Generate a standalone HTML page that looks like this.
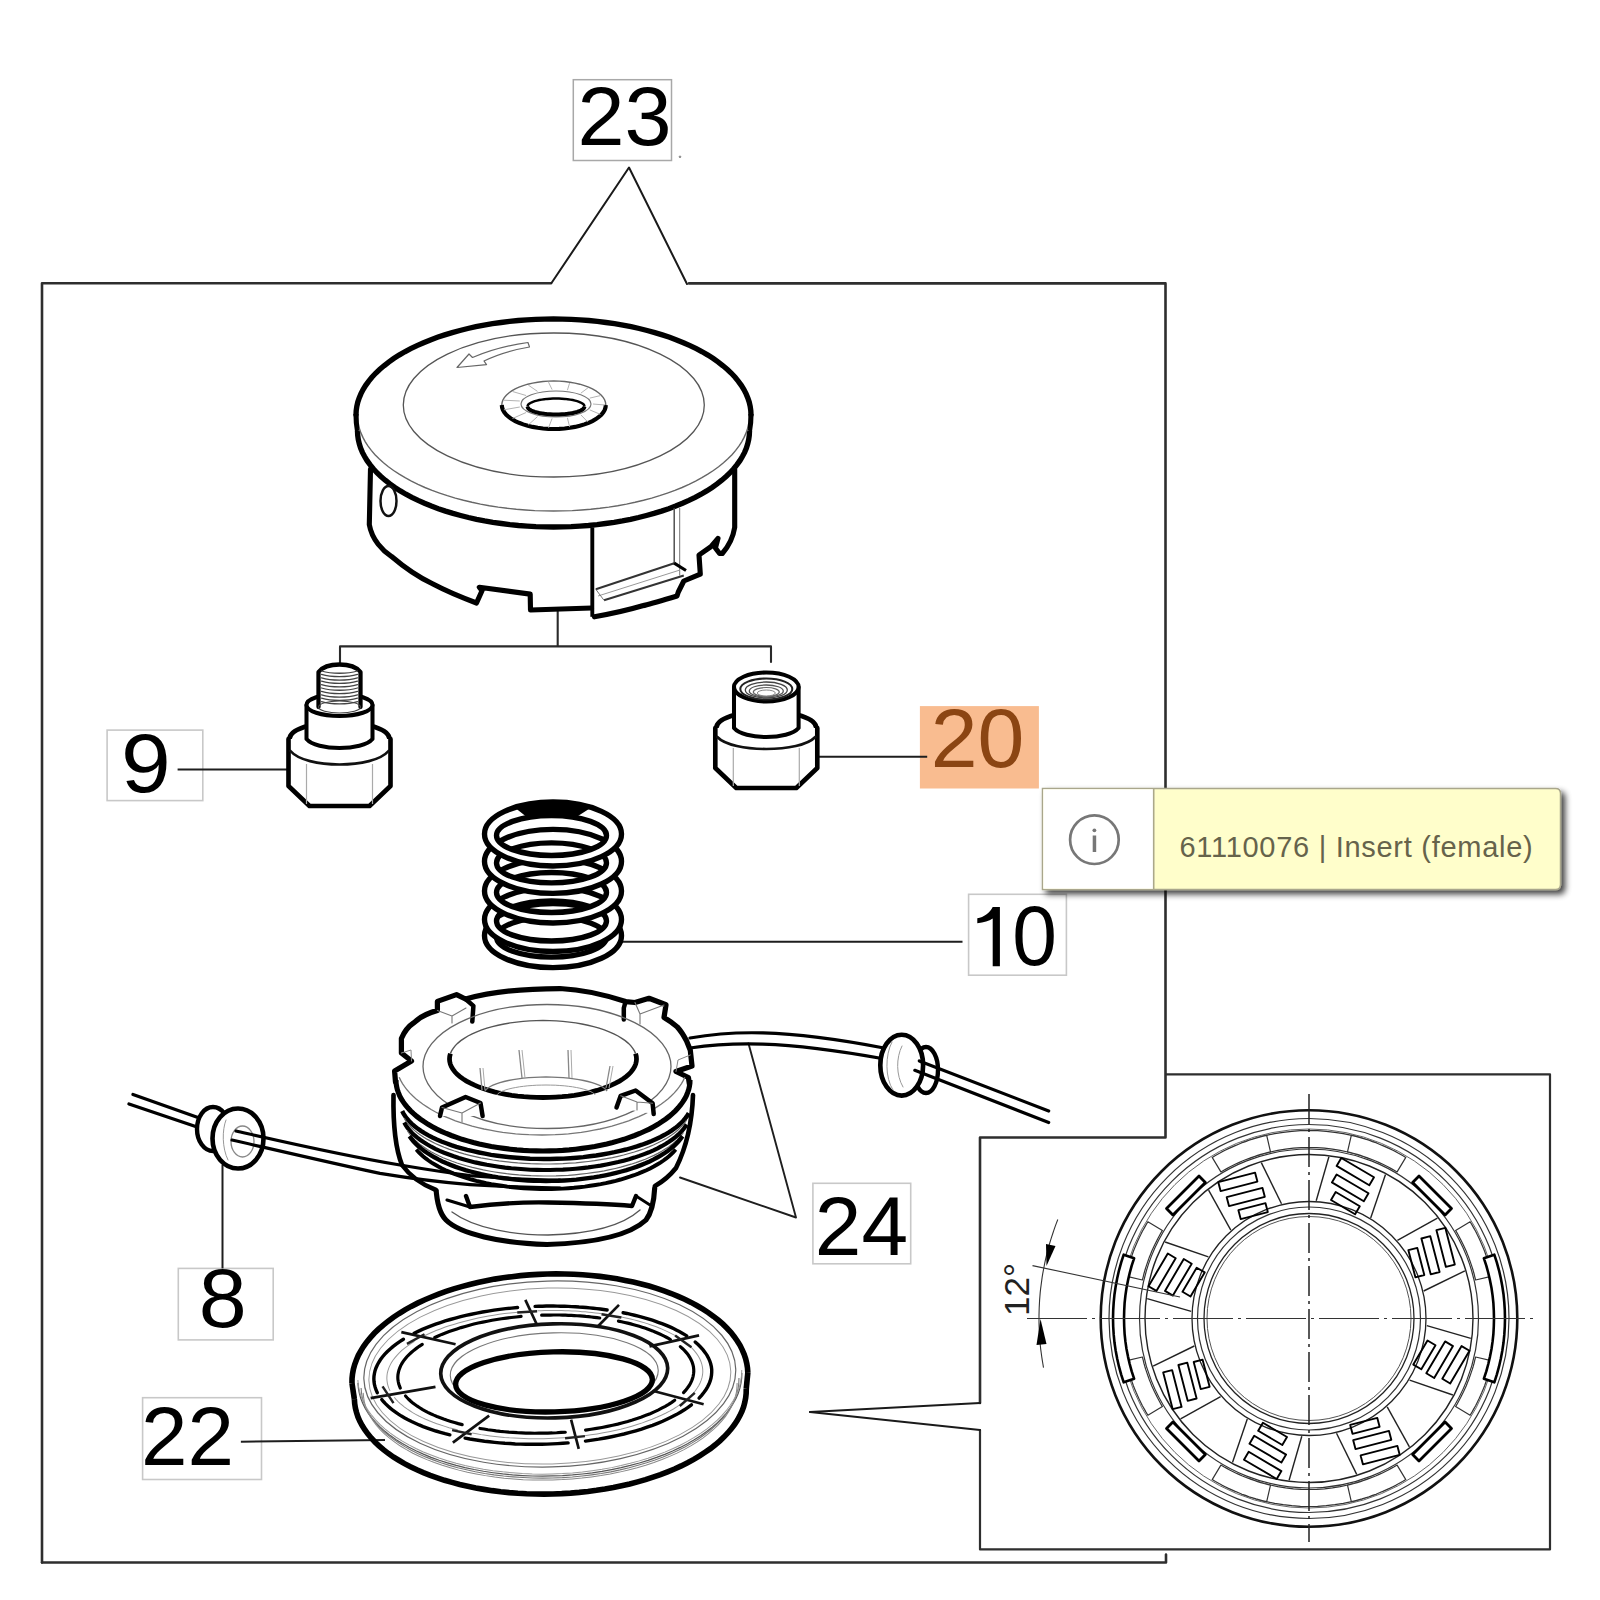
<!DOCTYPE html>
<html><head><meta charset="utf-8"><style>
html,body{margin:0;padding:0;background:#fff;}
body{width:1600px;height:1600px;position:relative;overflow:hidden;font-family:"Liberation Sans",sans-serif;}
svg{position:absolute;left:0;top:0;}
svg text{font-family:"Liberation Sans",sans-serif;}
</style></head><body>
<svg width="1600" height="1600" viewBox="0 0 1600 1600">
<path d="M42 1562.5 V283.2 H551" stroke="#2e2e2e" stroke-width="2.6" fill="none" stroke-linejoin="round" stroke-linecap="round" />
<path d="M689 283.4 H1165.5 V1137.5 H980 V1403" stroke="#2e2e2e" stroke-width="2.6" fill="none" stroke-linejoin="round" stroke-linecap="round" />
<path d="M980 1430 V1549.4 H1550 V1074.3 H1166" stroke="#2e2e2e" stroke-width="2.2" fill="none" stroke-linejoin="round" stroke-linecap="round" />
<path d="M42 1562.5 H1166 V1554.5" stroke="#2e2e2e" stroke-width="2.6" fill="none" stroke-linejoin="round" stroke-linecap="round" />
<path d="M551.5 283 L629 167.5 L687 284" stroke="#1a1a1a" stroke-width="2.0" fill="none" stroke-linejoin="round" stroke-linecap="round" />
<path d="M810 1412 L980 1403" stroke="#1a1a1a" stroke-width="2" fill="none" stroke-linejoin="round" stroke-linecap="round" />
<path d="M810 1412 L980 1430" stroke="#1a1a1a" stroke-width="2" fill="none" stroke-linejoin="round" stroke-linecap="round" />
<circle cx="680.0" cy="156.8" r="0.8" stroke="#555" stroke-width="0.8" fill="none" />
<rect x="573.3" y="79.7" width="98.2" height="80.8" fill="none" stroke="#a8a8a8" stroke-width="1.5"/>
<text transform="translate(577.42 145.06) scale(0.8458 0.8376)" font-size="100" fill="#000">23</text>
<rect x="107.1" y="730.1" width="95.7" height="70.5" fill="none" stroke="#c8c8c8" stroke-width="1.6"/>
<text transform="translate(120.90 792.26) scale(0.8939 0.8362)" font-size="100" fill="#000">9</text>
<rect x="968.6" y="894.3" width="97.8" height="80.9" fill="none" stroke="#c8c8c8" stroke-width="1.6"/>
<path d="M992.7 906.9 L999.9 906.9 L999.9 966.2 L992.7 966.2 L992.7 918.5 C989 921 984 922.5 977.3 923.2 L977.3 918.2 C984 917 989.5 913 992.7 906.9 Z" stroke="none" stroke-width="0" fill="#000" stroke-linejoin="round" stroke-linecap="round" />
<text transform="translate(1012.27 965.36) scale(0.8033 0.8432)" font-size="100" fill="#000">0</text>
<rect x="812.9" y="1183.3" width="97.8" height="80.5" fill="none" stroke="#c8c8c8" stroke-width="1.6"/>
<text transform="translate(814.81 1255.20) scale(0.8383 0.8352)" font-size="100" fill="#000">24</text>
<rect x="178.3" y="1268.4" width="94.9" height="71.5" fill="none" stroke="#c8c8c8" stroke-width="1.6"/>
<text transform="translate(198.69 1327.36) scale(0.8617 0.8390)" font-size="100" fill="#000">8</text>
<rect x="142.6" y="1397.7" width="118.9" height="81.8" fill="none" stroke="#c8c8c8" stroke-width="1.6"/>
<text transform="translate(141.12 1465.10) scale(0.8360 0.8381)" font-size="100" fill="#000">22</text>
<rect x="919.9" y="706.1" width="119" height="82.4" fill="#f9bc90"/>
<text transform="translate(930.69 766.57) scale(0.8416 0.8263)" font-size="100" fill="#8b4513">20</text>
<line x1="177.6" y1="769.5" x2="288.0" y2="769.5" stroke="#1e1e1e" stroke-width="2.0" />
<line x1="811.0" y1="756.7" x2="927.2" y2="756.7" stroke="#1e1e1e" stroke-width="2.0" />
<line x1="621.6" y1="941.8" x2="962.5" y2="941.8" stroke="#1e1e1e" stroke-width="2.0" />
<line x1="222.5" y1="1165.0" x2="222.5" y2="1268.4" stroke="#1e1e1e" stroke-width="2.0" />
<line x1="240.9" y1="1441.7" x2="385.0" y2="1440.0" stroke="#1e1e1e" stroke-width="2.0" />
<path d="M748.5 1043.5 L796 1217.5 L680 1177.5" stroke="#1e1e1e" stroke-width="1.9" fill="none" stroke-linejoin="round" stroke-linecap="round" />
<path d="M340 664 V646.4 H771 V662" stroke="#2a2a2a" stroke-width="2.1" fill="none" stroke-linejoin="round" stroke-linecap="round" />
<line x1="557.7" y1="611.0" x2="557.7" y2="646.4" stroke="#2a2a2a" stroke-width="2.1" />
<path d="M356.0 415.0 L356.2 410.7 L356.8 406.4 L357.8 402.1 L359.2 397.9 L361.0 393.6 L363.1 389.5 L365.7 385.3 L368.6 381.3 L371.9 377.3 L375.6 373.3 L379.6 369.5 L384.0 365.8 L388.7 362.1 L393.7 358.6 L399.1 355.1 L404.8 351.8 L410.7 348.7 L417.0 345.6 L423.6 342.7 L430.4 339.9 L437.4 337.3 L444.7 334.9 L452.2 332.6 L459.9 330.5 L467.8 328.5 L475.9 326.7 L484.1 325.1 L492.5 323.7 L501.0 322.5 L509.6 321.4 L518.2 320.5 L527.0 319.9 L535.8 319.4 L544.6 319.1 L553.5 319.0 L562.4 319.1 L571.2 319.4 L580.0 319.9 L588.8 320.5 L597.4 321.4 L606.0 322.5 L614.5 323.7 L622.9 325.1 L631.1 326.7 L639.2 328.5 L647.1 330.5 L654.8 332.6 L662.3 334.9 L669.6 337.3 L676.6 339.9 L683.4 342.7 L690.0 345.6 L696.3 348.7 L702.2 351.8 L707.9 355.1 L713.3 358.6 L718.3 362.1 L723.0 365.8 L727.4 369.5 L731.4 373.3 L735.1 377.3 L738.4 381.3 L741.3 385.3 L743.9 389.5 L746.0 393.6 L747.8 397.9 L749.2 402.1 L750.2 406.4 L750.8 410.7 L751.0 415.0 L749.5 431 749.5 431.0 L749.3 435.3 L748.7 439.6 L747.7 443.9 L746.4 448.1 L744.6 452.4 L742.4 456.5 L739.9 460.7 L737.0 464.7 L733.7 468.7 L730.1 472.7 L726.1 476.5 L721.8 480.2 L717.1 483.9 L712.1 487.4 L706.7 490.9 L701.1 494.2 L695.2 497.3 L688.9 500.4 L682.5 503.3 L675.7 506.1 L668.7 508.7 L661.5 511.1 L654.0 513.4 L646.4 515.5 L638.5 517.5 L630.5 519.3 L622.4 520.9 L614.1 522.3 L605.6 523.5 L597.1 524.6 L588.5 525.5 L579.8 526.1 L571.1 526.6 L562.3 526.9 L553.5 527.0 L544.7 526.9 L535.9 526.6 L527.2 526.1 L518.5 525.5 L509.9 524.6 L501.4 523.5 L492.9 522.3 L484.6 520.9 L476.5 519.3 L468.5 517.5 L460.6 515.5 L453.0 513.4 L445.5 511.1 L438.3 508.7 L431.3 506.1 L424.5 503.3 L418.1 500.4 L411.8 497.3 L405.9 494.2 L400.3 490.9 L394.9 487.4 L389.9 483.9 L385.2 480.2 L380.9 476.5 L376.9 472.7 L373.3 468.7 L370.0 464.7 L367.1 460.7 L364.6 456.5 L362.4 452.4 L360.6 448.1 L359.3 443.9 L358.3 439.6 L357.7 435.3 L357.5 431.0 Z" fill="#fff" stroke="none"/>
<path d="M356.0 415.0 L356.2 410.7 L356.8 406.4 L357.8 402.1 L359.2 397.9 L361.0 393.6 L363.1 389.5 L365.7 385.3 L368.6 381.3 L371.9 377.3 L375.6 373.3 L379.6 369.5 L384.0 365.8 L388.7 362.1 L393.7 358.6 L399.1 355.1 L404.8 351.8 L410.7 348.7 L417.0 345.6 L423.6 342.7 L430.4 339.9 L437.4 337.3 L444.7 334.9 L452.2 332.6 L459.9 330.5 L467.8 328.5 L475.9 326.7 L484.1 325.1 L492.5 323.7 L501.0 322.5 L509.6 321.4 L518.2 320.5 L527.0 319.9 L535.8 319.4 L544.6 319.1 L553.5 319.0 L562.4 319.1 L571.2 319.4 L580.0 319.9 L588.8 320.5 L597.4 321.4 L606.0 322.5 L614.5 323.7 L622.9 325.1 L631.1 326.7 L639.2 328.5 L647.1 330.5 L654.8 332.6 L662.3 334.9 L669.6 337.3 L676.6 339.9 L683.4 342.7 L690.0 345.6 L696.3 348.7 L702.2 351.8 L707.9 355.1 L713.3 358.6 L718.3 362.1 L723.0 365.8 L727.4 369.5 L731.4 373.3 L735.1 377.3 L738.4 381.3 L741.3 385.3 L743.9 389.5 L746.0 393.6 L747.8 397.9 L749.2 402.1 L750.2 406.4 L750.8 410.7 L751.0 415.0" stroke="#000" stroke-width="5.37" fill="none" stroke-linecap="round"/>
<path d="M751 414 C751 420 750.5 426 749.5 431" stroke="#000" stroke-width="5.12" fill="none"/>
<path d="M356 414 C356 420 356.5 426 357.5 431" stroke="#000" stroke-width="5.12" fill="none"/>
<path d="M749.5 431.0 L749.3 435.3 L748.7 439.6 L747.7 443.9 L746.4 448.1 L744.6 452.4 L742.4 456.5 L739.9 460.7 L737.0 464.7 L733.7 468.7 L730.1 472.7 L726.1 476.5 L721.8 480.2 L717.1 483.9 L712.1 487.4 L706.7 490.9 L701.1 494.2 L695.2 497.3 L688.9 500.4 L682.5 503.3 L675.7 506.1 L668.7 508.7 L661.5 511.1 L654.0 513.4 L646.4 515.5 L638.5 517.5 L630.5 519.3 L622.4 520.9 L614.1 522.3 L605.6 523.5 L597.1 524.6 L588.5 525.5 L579.8 526.1 L571.1 526.6 L562.3 526.9 L553.5 527.0 L544.7 526.9 L535.9 526.6 L527.2 526.1 L518.5 525.5 L509.9 524.6 L501.4 523.5 L492.9 522.3 L484.6 520.9 L476.5 519.3 L468.5 517.5 L460.6 515.5 L453.0 513.4 L445.5 511.1 L438.3 508.7 L431.3 506.1 L424.5 503.3 L418.1 500.4 L411.8 497.3 L405.9 494.2 L400.3 490.9 L394.9 487.4 L389.9 483.9 L385.2 480.2 L380.9 476.5 L376.9 472.7 L373.3 468.7 L370.0 464.7 L367.1 460.7 L364.6 456.5 L362.4 452.4 L360.6 448.1 L359.3 443.9 L358.3 439.6 L357.7 435.3 L357.5 431.0" stroke="#000" stroke-width="5.37" fill="none"/>
<path d="M747.6 428.4 L746.1 432.9 L744.1 437.4 L741.7 441.8 L738.9 446.1 L735.7 450.4 L732.0 454.7 L727.9 458.8 L723.5 462.8 L718.6 466.7 L713.4 470.5 L707.8 474.2 L701.9 477.7 L695.6 481.1 L689.0 484.4 L682.1 487.5 L674.9 490.4 L667.4 493.1 L659.7 495.7 L651.7 498.1 L643.5 500.3 L635.1 502.3 L626.5 504.1 L617.7 505.7 L608.8 507.1 L599.8 508.3 L590.7 509.3 L581.5 510.0 L572.2 510.6 L562.8 510.9 L553.5 511.0 L544.2 510.9 L534.8 510.6 L525.5 510.0 L516.3 509.3 L507.2 508.3 L498.2 507.1 L489.3 505.7 L480.5 504.1 L471.9 502.3 L463.5 500.3 L455.3 498.1 L447.3 495.7 L439.6 493.1 L432.1 490.4 L424.9 487.5 L418.0 484.4 L411.4 481.1 L405.1 477.7 L399.2 474.2 L393.6 470.5 L388.4 466.7 L383.5 462.8 L379.1 458.8 L375.0 454.7 L371.3 450.4 L368.1 446.1 L365.3 441.8 L362.9 437.4 L360.9 432.9 L359.4 428.4" stroke="#666" stroke-width="1.40" fill="none"/>
<ellipse cx="553.8" cy="405.0" rx="150.5" ry="72.0" stroke="#555" stroke-width="1.30" fill="none" />
<path d="M605.8 405.0 L605.5 407.5 L604.7 410.0 L603.3 412.4 L601.3 414.8 L598.8 417.0 L595.9 419.1 L592.4 421.1 L588.6 422.8 L584.4 424.4 L579.8 425.8 L575.0 426.9 L569.9 427.8 L564.6 428.5 L559.2 428.9 L553.8 429.0 L548.4 428.9 L543.0 428.5 L537.7 427.8 L532.6 426.9 L527.8 425.8 L523.2 424.4 L519.0 422.8 L515.2 421.1 L511.7 419.1 L508.8 417.0 L506.3 414.8 L504.3 412.4 L502.9 410.0 L502.1 407.5 L501.8 405.0" stroke="#000" stroke-width="4.15" fill="none"/>
<path d="M501.8 405.0 L502.1 402.5 L502.9 400.0 L504.3 397.6 L506.3 395.2 L508.8 393.0 L511.7 390.9 L515.2 388.9 L519.0 387.2 L523.2 385.6 L527.8 384.2 L532.6 383.1 L537.7 382.2 L543.0 381.5 L548.4 381.1 L553.8 381.0 L559.2 381.1 L564.6 381.5 L569.9 382.2 L575.0 383.1 L579.8 384.2 L584.4 385.6 L588.6 387.2 L592.4 388.9 L595.9 390.9 L598.8 393.0 L601.3 395.2 L603.3 397.6 L604.7 400.0 L605.5 402.5 L605.8 405.0" stroke="#666" stroke-width="1.40" fill="none"/>
<ellipse cx="556.0" cy="404.0" rx="35.0" ry="13.0" stroke="#777" stroke-width="1.20" fill="none" />
<path d="M584.5 406.5 L584.3 407.3 L583.9 408.2 L583.1 409.0 L582.0 409.8 L580.7 410.5 L579.1 411.2 L577.2 411.9 L575.1 412.4 L572.8 413.0 L570.2 413.4 L567.6 413.8 L564.8 414.1 L561.9 414.3 L559.0 414.5 L556.0 414.5 L553.0 414.5 L550.1 414.3 L547.2 414.1 L544.4 413.8 L541.8 413.4 L539.2 413.0 L536.9 412.4 L534.8 411.9 L532.9 411.2 L531.3 410.5 L530.0 409.8 L528.9 409.0 L528.1 408.2 L527.7 407.3 L527.5 406.5" stroke="#000" stroke-width="3.90" fill="none"/>
<path d="M527.5 406.5 L527.7 405.7 L528.1 404.8 L528.9 404.0 L530.0 403.2 L531.3 402.5 L532.9 401.8 L534.8 401.1 L536.9 400.6 L539.2 400.0 L541.8 399.6 L544.4 399.2 L547.2 398.9 L550.1 398.7 L553.0 398.5 L556.0 398.5 L559.0 398.5 L561.9 398.7 L564.8 398.9 L567.6 399.2 L570.2 399.6 L572.8 400.0 L575.1 400.6 L577.2 401.1 L579.1 401.8 L580.7 402.5 L582.0 403.2 L583.1 404.0 L583.9 404.8 L584.3 405.7 L584.5 406.5" stroke="#000" stroke-width="2.46" fill="none"/>
<line x1="604.8" y1="405.0" x2="593.0" y2="404.0" stroke="#aaa" stroke-width="0.90" />
<line x1="600.4" y1="414.4" x2="589.8" y2="409.9" stroke="#aaa" stroke-width="0.90" />
<line x1="587.9" y1="422.1" x2="580.8" y2="414.8" stroke="#aaa" stroke-width="0.90" />
<line x1="569.6" y1="426.9" x2="567.4" y2="417.8" stroke="#aaa" stroke-width="0.90" />
<line x1="548.5" y1="427.9" x2="552.1" y2="418.4" stroke="#aaa" stroke-width="0.90" />
<line x1="528.3" y1="424.9" x2="537.5" y2="416.6" stroke="#aaa" stroke-width="0.90" />
<line x1="512.5" y1="418.5" x2="526.1" y2="412.5" stroke="#aaa" stroke-width="0.90" />
<line x1="503.9" y1="409.8" x2="519.8" y2="407.0" stroke="#aaa" stroke-width="0.90" />
<line x1="503.9" y1="400.2" x2="519.8" y2="401.0" stroke="#aaa" stroke-width="0.90" />
<line x1="512.5" y1="391.5" x2="526.1" y2="395.5" stroke="#aaa" stroke-width="0.90" />
<line x1="528.3" y1="385.1" x2="537.5" y2="391.4" stroke="#aaa" stroke-width="0.90" />
<line x1="548.5" y1="382.1" x2="552.1" y2="389.6" stroke="#aaa" stroke-width="0.90" />
<line x1="569.6" y1="383.1" x2="567.4" y2="390.2" stroke="#aaa" stroke-width="0.90" />
<line x1="587.9" y1="387.9" x2="580.8" y2="393.2" stroke="#aaa" stroke-width="0.90" />
<line x1="600.4" y1="395.6" x2="589.8" y2="398.1" stroke="#aaa" stroke-width="0.90" />
<path d="M457 367.5 L469 354 L472.5 357.5 C490 350 510 345 528 342.5 L529.5 347 C512 350 494 356 484 361 L486.5 364.6 Z" stroke="#666" stroke-width="1.20" fill="none" stroke-linejoin="round" stroke-linecap="round" />
<path d="M370.5 469 L369.3 524.6 C372 540 383 551 391.3 556.3 C405 568 418 577 432.5 583.8 C448 592 463 598 476.5 603 L482 590.7 L479.3 587.2 L530.2 594.1 L530.5 610 L591.6 608" stroke="#000" stroke-width="5.12" fill="none" stroke-linejoin="round" stroke-linecap="round" />
<path d="M734.7 469.6 L734.7 527.4 C733 538 728 547 722.3 553.5 L719.6 553.5 L715.4 548 L718 538.4 L711 546.7 L699 555 L700.3 574.2 L683.8 581 L678.3 592 L677 596 C660 601 650 604 642.5 605.8 C625 611 610 614 594.4 616.8" stroke="#000" stroke-width="5.12" fill="none" stroke-linejoin="round" stroke-linecap="round" />
<line x1="592.3" y1="527.4" x2="592.3" y2="616.8" stroke="#000" stroke-width="3.90" />
<line x1="674.2" y1="508.0" x2="674.2" y2="564.5" stroke="#444" stroke-width="1.40" />
<line x1="679.7" y1="508.0" x2="679.7" y2="575.5" stroke="#777" stroke-width="1.00" />
<line x1="595.8" y1="589.3" x2="674.2" y2="563.2" stroke="#333" stroke-width="2.02" />
<line x1="604.0" y1="600.3" x2="683.8" y2="575.5" stroke="#333" stroke-width="2.02" />
<line x1="598.0" y1="596.0" x2="680.0" y2="570.0" stroke="#999" stroke-width="1.00" />
<line x1="674.2" y1="563.2" x2="686.0" y2="570.5" stroke="#000" stroke-width="3.17" />
<line x1="595.8" y1="589.3" x2="604.0" y2="600.3" stroke="#777" stroke-width="1.00" />
<ellipse cx="388.5" cy="501.0" rx="8.0" ry="15.0" stroke="#111" stroke-width="2.46" fill="none" />
<ellipse cx="339.5" cy="739.0" rx="50.0" ry="17.0" stroke="#000" stroke-width="4.64" fill="#fff" />
<path d="M288.5 739 L288.5 786 L309.5 806 L369.5 806 L390.5 786 L390.5 739" stroke="#000" stroke-width="4.64" fill="#fff" stroke-linejoin="round" stroke-linecap="round" />
<path d="M290.5 751 C305.5 769 373.5 769 388.5 751" stroke="#111" stroke-width="2.69" fill="none" stroke-linejoin="round" stroke-linecap="round" />
<line x1="306.5" y1="764.0" x2="306.5" y2="804.0" stroke="#aaa" stroke-width="1.20" />
<line x1="372.5" y1="764.0" x2="372.5" y2="804.0" stroke="#aaa" stroke-width="1.20" />
<path d="M306.5 705 L306.5 739 C316.5 751 362.5 751 372.5 739 L372.5 705" stroke="#000" stroke-width="4.03" fill="#fff" stroke-linejoin="round" stroke-linecap="round" />
<ellipse cx="339.5" cy="705.0" rx="33.0" ry="11.0" stroke="#000" stroke-width="4.03" fill="#fff" />
<path d="M318.5 707 L318.5 672 C326.5 662 352.5 662 360.5 672 L360.5 707" stroke="#000" stroke-width="4.27" fill="#fff" stroke-linejoin="round" stroke-linecap="round" />
<path d="M321.5 671.0 C331.5 674.0 347.5 674.0 357.5 671.0" stroke="#444" stroke-width="1.30" fill="none" stroke-linejoin="round" stroke-linecap="round" />
<path d="M321.5 674.4 C331.5 677.4 347.5 677.4 357.5 674.4" stroke="#444" stroke-width="1.30" fill="none" stroke-linejoin="round" stroke-linecap="round" />
<path d="M321.5 677.8 C331.5 680.8 347.5 680.8 357.5 677.8" stroke="#444" stroke-width="1.30" fill="none" stroke-linejoin="round" stroke-linecap="round" />
<path d="M321.5 681.2 C331.5 684.2 347.5 684.2 357.5 681.2" stroke="#444" stroke-width="1.30" fill="none" stroke-linejoin="round" stroke-linecap="round" />
<path d="M321.5 684.6 C331.5 687.6 347.5 687.6 357.5 684.6" stroke="#444" stroke-width="1.30" fill="none" stroke-linejoin="round" stroke-linecap="round" />
<path d="M321.5 688.0 C331.5 691.0 347.5 691.0 357.5 688.0" stroke="#444" stroke-width="1.30" fill="none" stroke-linejoin="round" stroke-linecap="round" />
<path d="M321.5 691.4 C331.5 694.4 347.5 694.4 357.5 691.4" stroke="#444" stroke-width="1.30" fill="none" stroke-linejoin="round" stroke-linecap="round" />
<path d="M321.5 694.8 C331.5 697.8 347.5 697.8 357.5 694.8" stroke="#444" stroke-width="1.30" fill="none" stroke-linejoin="round" stroke-linecap="round" />
<path d="M321.5 698.2 C331.5 701.2 347.5 701.2 357.5 698.2" stroke="#444" stroke-width="1.30" fill="none" stroke-linejoin="round" stroke-linecap="round" />
<path d="M321.5 701.6 C331.5 704.6 347.5 704.6 357.5 701.6" stroke="#444" stroke-width="1.30" fill="none" stroke-linejoin="round" stroke-linecap="round" />
<ellipse cx="339.5" cy="707.0" rx="21.0" ry="6.0" stroke="#444" stroke-width="1.20" fill="none" />
<ellipse cx="766.3" cy="728.0" rx="50.0" ry="17.0" stroke="#000" stroke-width="4.64" fill="#fff" />
<path d="M715.3 728 L715.3 768 L736.3 788 L796.3 788 L817.3 768 L817.3 728" stroke="#000" stroke-width="4.64" fill="#fff" stroke-linejoin="round" stroke-linecap="round" />
<path d="M717.3 737 C732.3 753 800.3 753 815.3 737" stroke="#111" stroke-width="2.69" fill="none" stroke-linejoin="round" stroke-linecap="round" />
<line x1="733.3" y1="748.0" x2="733.3" y2="786.0" stroke="#aaa" stroke-width="1.20" />
<line x1="799.3" y1="748.0" x2="799.3" y2="786.0" stroke="#aaa" stroke-width="1.20" />
<path d="M734.0 687 L734.0 728 C744.0 740 788.5999999999999 740 798.5999999999999 728 L798.5999999999999 687" stroke="#000" stroke-width="4.03" fill="#fff" stroke-linejoin="round" stroke-linecap="round" />
<ellipse cx="766.3" cy="687.0" rx="32.3" ry="14.5" stroke="#000" stroke-width="4.03" fill="#fff" />
<ellipse cx="766.3" cy="689.0" rx="26.0" ry="10.5" stroke="#222" stroke-width="2.02" fill="none" />
<ellipse cx="766.3" cy="690.0" rx="21.0" ry="8.0" stroke="#444" stroke-width="1.30" fill="none" />
<ellipse cx="766.3" cy="691.0" rx="17.0" ry="6.0" stroke="#555" stroke-width="1.30" fill="none" />
<ellipse cx="766.3" cy="692.0" rx="13.0" ry="4.5" stroke="#666" stroke-width="1.20" fill="none" />
<ellipse cx="766.3" cy="693.0" rx="9.0" ry="3.0" stroke="#888" stroke-width="1.00" fill="none" />
<path d="M484.5 935.6 a68.5 32.0 0 1 0 137.0 0 a68.5 32.0 0 1 0 -137.0 0 Z M496.5 937.1 a55.0 20.0 0 1 0 110.0 0 a55.0 20.0 0 1 0 -110.0 0 Z" fill="#fff" fill-rule="evenodd" stroke="#000" stroke-width="5.37"/>
<path d="M484.5 919.5 a68.5 32.0 0 1 0 137.0 0 a68.5 32.0 0 1 0 -137.0 0 Z M496.5 921.0 a55.0 20.0 0 1 0 110.0 0 a55.0 20.0 0 1 0 -110.0 0 Z" fill="#fff" fill-rule="evenodd" stroke="#000" stroke-width="5.37"/>
<path d="M484.5 891.0 a68.5 32.0 0 1 0 137.0 0 a68.5 32.0 0 1 0 -137.0 0 Z M496.5 892.5 a55.0 20.0 0 1 0 110.0 0 a55.0 20.0 0 1 0 -110.0 0 Z" fill="#fff" fill-rule="evenodd" stroke="#000" stroke-width="5.37"/>
<path d="M484.5 861.4 a68.5 32.0 0 1 0 137.0 0 a68.5 32.0 0 1 0 -137.0 0 Z M496.5 862.9 a55.0 20.0 0 1 0 110.0 0 a55.0 20.0 0 1 0 -110.0 0 Z" fill="#fff" fill-rule="evenodd" stroke="#000" stroke-width="5.37"/>
<path d="M484.5 834.0 a68.5 32.0 0 1 0 137.0 0 a68.5 32.0 0 1 0 -137.0 0 Z M496.5 835.5 a55.0 20.0 0 1 0 110.0 0 a55.0 20.0 0 1 0 -110.0 0 Z" fill="#fff" fill-rule="evenodd" stroke="#000" stroke-width="5.37"/>
<path d="M514.7 807.5 L517.0 806.8 L519.3 806.1 L521.7 805.5 L524.1 805.0 L526.6 804.5 L529.1 804.0 L531.7 803.6 L534.3 803.2 L536.9 802.9 L539.5 802.6 L542.2 802.4 L544.9 802.2 L547.6 802.1 L550.3 802.0 L553.0 802.0 L555.7 802.0 L558.4 802.1 L561.1 802.2 L563.8 802.4 L566.5 802.6 L569.1 802.9 L571.7 803.2 L574.3 803.6 L576.9 804.0 L579.4 804.5 L581.9 805.0 L584.3 805.5 L586.7 806.1 L589.0 806.8 L591.3 807.5 L575.6 817.5 L574.1 817.3 L572.6 817.0 L571.0 816.8 L569.5 816.6 L567.9 816.4 L566.3 816.2 L564.7 816.1 L563.1 815.9 L561.4 815.8 L559.8 815.7 L558.1 815.6 L556.5 815.6 L554.8 815.5 L553.2 815.5 L551.5 815.5 L549.8 815.5 L548.2 815.5 L546.5 815.6 L544.9 815.6 L543.2 815.7 L541.6 815.8 L539.9 815.9 L538.3 816.1 L536.7 816.2 L535.1 816.4 L533.5 816.6 L532.0 816.8 L530.4 817.0 L528.9 817.3 L527.4 817.5 Z" fill="#000" stroke="none"/>
<path d="M436 1188 C437 1205 440 1214 446 1220 C460 1234 500 1243 547 1244.5 C595 1243 630 1235 646 1220 C652 1212 654 1202 654.7 1188 L640 1180 L450 1180 Z" fill="#fff" stroke="none"/>
<path d="M436 1188 C437 1205 440 1214 446 1220 C460 1234 500 1243 547 1244.5 C595 1243 630 1235 646 1220 C652 1212 654 1202 654.7 1188" stroke="#000" stroke-width="5.12" fill="none" stroke-linejoin="round" stroke-linecap="round" />
<path d="M452 1212 C475 1229 515 1235 548 1235 C590 1234 622 1226 640 1210" stroke="#555" stroke-width="1.30" fill="none" stroke-linejoin="round" stroke-linecap="round" />
<path d="M466 1196 L470 1207 C500 1203 520 1202 548 1202.5 C580 1203 610 1204 632 1206 L636 1196" stroke="#000" stroke-width="4.39" fill="none" stroke-linejoin="round" stroke-linecap="round" />
<path d="M447 1200 L470 1207" stroke="#000" stroke-width="3.17" fill="none" stroke-linejoin="round" stroke-linecap="round" />
<path d="M636 1196 L650 1205" stroke="#000" stroke-width="2.69" fill="none" stroke-linejoin="round" stroke-linecap="round" />
<path d="M393.5 1090 C393 1125 396 1150 402 1165 C412 1178 425 1186 440 1190 C480 1196 510 1197 545 1197 C590 1197 630 1192 655 1184 C668 1178 676 1168 680 1160 C688 1140 692 1120 693 1090 Z" fill="#fff" stroke="none"/>
<path d="M393.5 1095 C393 1125 396 1150 402 1165 C410 1176 420 1184 436 1190" stroke="#000" stroke-width="4.64" fill="none" stroke-linejoin="round" stroke-linecap="round" />
<path d="M693 1095 C692 1125 686 1148 676 1168 C668 1178 662 1182 655 1186" stroke="#000" stroke-width="4.64" fill="none" stroke-linejoin="round" stroke-linecap="round" />
<path d="M688.8 1113.1 L687.3 1115.7 L685.4 1118.2 L683.3 1120.7 L680.9 1123.2 L678.1 1125.7 L675.1 1128.1 L671.9 1130.4 L668.4 1132.6 L664.6 1134.8 L660.5 1137.0 L656.2 1139.0 L651.7 1141.0 L647.0 1142.9 L642.0 1144.7 L636.9 1146.4 L631.5 1148.0 L626.0 1149.5 L620.3 1150.9 L614.5 1152.2 L608.5 1153.4 L602.3 1154.5 L596.1 1155.5 L589.7 1156.3 L583.3 1157.1 L576.8 1157.7 L570.2 1158.2 L563.5 1158.6 L556.9 1158.8 L550.2 1159.0 L543.5 1159.0 L536.7 1158.9 L530.1 1158.7 L523.4 1158.3 L516.8 1157.8 L510.3 1157.2 L503.8 1156.5 L497.4 1155.7 L491.1 1154.8 L485.0 1153.7 L479.0 1152.5 L473.1 1151.2 L467.3 1149.9 L461.8 1148.4 L456.4 1146.8 L451.2 1145.1 L446.2 1143.3 L441.4 1141.5 L436.8 1139.5 L432.5 1137.5 L428.4 1135.4 L424.5 1133.2 L420.9 1130.9 L417.6 1128.6 L414.6 1126.2 L411.8 1123.8 L409.3 1121.3 L407.1 1118.8 L405.2 1116.3 L403.5 1113.7 L402.2 1111.1" stroke="#000" stroke-width="4.39" fill="none"/>
<path d="M686.7 1120.0 L685.0 1122.5 L683.0 1125.0 L680.7 1127.4 L678.2 1129.8 L675.4 1132.2 L672.3 1134.5 L669.0 1136.7 L665.5 1138.9 L661.6 1141.0 L657.6 1143.0 L653.4 1145.0 L648.9 1146.9 L644.2 1148.7 L639.3 1150.4 L634.3 1152.0 L629.0 1153.5 L623.6 1155.0 L618.1 1156.3 L612.4 1157.6 L606.5 1158.7 L600.6 1159.7 L594.5 1160.7 L588.3 1161.5 L582.1 1162.2 L575.7 1162.8 L569.3 1163.2 L562.9 1163.6 L556.5 1163.8 L550.0 1164.0 L543.5 1164.0 L537.0 1163.9 L530.5 1163.7 L524.1 1163.3 L517.7 1162.9 L511.3 1162.3 L505.1 1161.6 L498.9 1160.9 L492.8 1160.0 L486.8 1158.9 L480.9 1157.8 L475.2 1156.6 L469.6 1155.3 L464.1 1153.9 L458.9 1152.4 L453.8 1150.8 L448.9 1149.1 L444.1 1147.3 L439.6 1145.4 L435.3 1143.5 L431.2 1141.4 L427.4 1139.4 L423.8 1137.2 L420.4 1135.0 L417.3 1132.7 L414.4 1130.4 L411.8 1128.0 L409.5 1125.6 L407.4 1123.1 L405.7 1120.6 L404.2 1118.1" stroke="#666" stroke-width="1.20" fill="none"/>
<path d="M686.7 1124.5 L685.0 1127.1 L683.0 1129.7 L680.7 1132.2 L678.2 1134.7 L675.4 1137.1 L672.3 1139.5 L669.0 1141.8 L665.5 1144.0 L661.6 1146.2 L657.6 1148.3 L653.4 1150.3 L648.9 1152.3 L644.2 1154.1 L639.3 1155.9 L634.3 1157.6 L629.0 1159.2 L623.6 1160.7 L618.1 1162.1 L612.4 1163.3 L606.5 1164.5 L600.6 1165.6 L594.5 1166.5 L588.3 1167.4 L582.1 1168.1 L575.7 1168.7 L569.3 1169.2 L562.9 1169.6 L556.5 1169.8 L550.0 1170.0 L543.5 1170.0 L537.0 1169.9 L530.5 1169.7 L524.1 1169.3 L517.7 1168.8 L511.3 1168.3 L505.1 1167.6 L498.9 1166.7 L492.8 1165.8 L486.8 1164.8 L480.9 1163.6 L475.2 1162.4 L469.6 1161.0 L464.1 1159.5 L458.9 1158.0 L453.8 1156.3 L448.9 1154.5 L444.1 1152.7 L439.6 1150.8 L435.3 1148.8 L431.2 1146.7 L427.4 1144.5 L423.8 1142.3 L420.4 1140.0 L417.3 1137.6 L414.4 1135.2 L411.8 1132.7 L409.5 1130.2 L407.4 1127.7 L405.7 1125.1 L404.2 1122.5" stroke="#000" stroke-width="4.15" fill="none"/>
<path d="M683.5 1132.5 L681.6 1135.0 L679.5 1137.5 L677.1 1139.9 L674.5 1142.3 L671.7 1144.6 L668.6 1146.9 L665.2 1149.1 L661.7 1151.3 L657.9 1153.4 L653.9 1155.4 L649.7 1157.3 L645.3 1159.2 L640.8 1160.9 L636.0 1162.6 L631.1 1164.2 L626.0 1165.7 L620.7 1167.2 L615.3 1168.5 L609.8 1169.7 L604.2 1170.8 L598.4 1171.8 L592.6 1172.7 L586.6 1173.5 L580.6 1174.2 L574.5 1174.8 L568.4 1175.3 L562.2 1175.6 L556.0 1175.9 L549.7 1176.0 L543.5 1176.0 L537.3 1175.9 L531.1 1175.7 L524.9 1175.3 L518.7 1174.9 L512.6 1174.3 L506.6 1173.7 L500.6 1172.9 L494.8 1172.0 L489.0 1171.0 L483.3 1169.9 L477.8 1168.7 L472.3 1167.4 L467.1 1166.0 L461.9 1164.5 L457.0 1163.0 L452.2 1161.3 L447.6 1159.5 L443.1 1157.7 L438.9 1155.8 L434.9 1153.8 L431.0 1151.7 L427.4 1149.6 L424.1 1147.3 L420.9 1145.1 L418.0 1142.8 L415.4 1140.4 L413.0 1138.0 L410.8 1135.5 L408.9 1133.0 L407.2 1130.5" stroke="#666" stroke-width="1.20" fill="none"/>
<path d="M682.5 1136.1 L680.7 1138.6 L678.6 1141.2 L676.3 1143.6 L673.8 1146.0 L671.0 1148.4 L668.0 1150.7 L664.7 1153.0 L661.3 1155.2 L657.6 1157.3 L653.7 1159.4 L649.6 1161.4 L645.4 1163.3 L640.9 1165.1 L636.3 1166.9 L631.5 1168.5 L626.5 1170.1 L621.4 1171.5 L616.1 1172.9 L610.8 1174.2 L605.3 1175.3 L599.7 1176.4 L593.9 1177.4 L588.1 1178.2 L582.3 1178.9 L576.3 1179.6 L570.3 1180.1 L564.3 1180.5 L558.2 1180.8 L552.1 1180.9 L546.0 1181.0 L539.9 1180.9 L533.8 1180.8 L527.7 1180.5 L521.7 1180.1 L515.7 1179.6 L509.7 1178.9 L503.9 1178.2 L498.1 1177.4 L492.3 1176.4 L486.7 1175.3 L481.2 1174.2 L475.9 1172.9 L470.6 1171.5 L465.5 1170.1 L460.5 1168.5 L455.7 1166.9 L451.1 1165.1 L446.6 1163.3 L442.4 1161.4 L438.3 1159.4 L434.4 1157.3 L430.7 1155.2 L427.3 1153.0 L424.0 1150.7 L421.0 1148.4 L418.2 1146.0 L415.7 1143.6 L413.4 1141.2 L411.3 1138.6 L409.5 1136.1" stroke="#000" stroke-width="4.39" fill="none"/>
<path d="M675.7 1149.5 L673.6 1151.8 L671.4 1154.0 L669.0 1156.2 L666.3 1158.4 L663.5 1160.5 L660.4 1162.6 L657.2 1164.5 L653.7 1166.5 L650.1 1168.4 L646.4 1170.2 L642.4 1171.9 L638.3 1173.6 L634.1 1175.2 L629.7 1176.7 L625.2 1178.1 L620.5 1179.5 L615.7 1180.8 L610.8 1182.0 L605.8 1183.1 L600.7 1184.1 L595.5 1185.0 L590.2 1185.8 L584.8 1186.6 L579.4 1187.2 L573.9 1187.8 L568.4 1188.2 L562.8 1188.6 L557.2 1188.8 L551.6 1189.0 L546.0 1189.0 L540.4 1189.0 L534.8 1188.8 L529.2 1188.6 L523.6 1188.2 L518.1 1187.8 L512.6 1187.2 L507.2 1186.6 L501.8 1185.8 L496.5 1185.0 L491.3 1184.1 L486.2 1183.1 L481.2 1182.0 L476.3 1180.8 L471.5 1179.5 L466.8 1178.1 L462.3 1176.7 L457.9 1175.2 L453.7 1173.6 L449.6 1171.9 L445.6 1170.2 L441.9 1168.4 L438.3 1166.5 L434.8 1164.5 L431.6 1162.6 L428.5 1160.5 L425.7 1158.4 L423.0 1156.2 L420.6 1154.0 L418.4 1151.8 L416.3 1149.5" stroke="#000" stroke-width="3.90" fill="none"/>
<path d="M394.0 1062.0 L394.1 1058.6 L394.6 1055.3 L395.3 1051.9 L396.4 1048.6 L397.7 1045.3 L399.3 1042.0 L401.2 1038.8 L403.4 1035.6 L405.9 1032.5 L408.7 1029.5 L411.7 1026.5 L414.9 1023.5 L418.5 1020.7 L422.3 1017.9 L426.3 1015.2 L430.5 1012.7 L435.0 1010.2 L439.7 1007.8 L444.6 1005.5 L449.7 1003.4 L455.0 1001.3 L460.5 999.4 L466.1 997.6 L471.9 996.0 L477.8 994.4 L483.8 993.0 L490.0 991.8 L496.3 990.7 L502.6 989.7 L509.1 988.9 L515.6 988.2 L522.1 987.7 L528.7 987.3 L535.4 987.1 L542.0 987.0 L548.6 987.1 L555.3 987.3 L561.9 987.7 L568.4 988.2 L574.9 988.9 L581.4 989.7 L587.7 990.7 L594.0 991.8 L600.2 993.0 L606.2 994.4 L612.1 996.0 L617.9 997.6 L623.5 999.4 L629.0 1001.3 L634.3 1003.4 L639.4 1005.5 L644.3 1007.8 L649.0 1010.2 L653.5 1012.7 L657.7 1015.2 L661.7 1017.9 L665.5 1020.7 L669.1 1023.5 L672.3 1026.5 L675.3 1029.5 L678.1 1032.5 L680.6 1035.6 L682.8 1038.8 L684.7 1042.0 L686.3 1045.3 L687.6 1048.6 L688.7 1051.9 L689.4 1055.3 L689.9 1058.6 L690.0 1062.0 L690 1080 690.0 1080.0 L689.9 1083.2 L689.4 1086.4 L688.7 1089.5 L687.6 1092.7 L686.3 1095.8 L684.7 1098.9 L682.8 1101.9 L680.6 1104.9 L678.2 1107.9 L675.4 1110.8 L672.4 1113.6 L669.2 1116.4 L665.7 1119.1 L661.9 1121.7 L657.9 1124.3 L653.7 1126.7 L649.3 1129.1 L644.6 1131.3 L639.7 1133.5 L634.7 1135.5 L629.4 1137.4 L624.0 1139.3 L618.4 1140.9 L612.7 1142.5 L606.8 1144.0 L600.8 1145.3 L594.7 1146.5 L588.4 1147.5 L582.1 1148.4 L575.7 1149.2 L569.2 1149.9 L562.7 1150.4 L556.2 1150.7 L549.6 1150.9 L543.0 1151.0 L536.4 1150.9 L529.8 1150.7 L523.3 1150.4 L516.8 1149.9 L510.3 1149.2 L503.9 1148.4 L497.6 1147.5 L491.3 1146.5 L485.2 1145.3 L479.2 1144.0 L473.3 1142.5 L467.6 1140.9 L462.0 1139.3 L456.6 1137.4 L451.3 1135.5 L446.3 1133.5 L441.4 1131.3 L436.7 1129.1 L432.3 1126.7 L428.1 1124.3 L424.1 1121.7 L420.3 1119.1 L416.8 1116.4 L413.6 1113.6 L410.6 1110.8 L407.8 1107.9 L405.4 1104.9 L403.2 1101.9 L401.3 1098.9 L399.7 1095.8 L398.4 1092.7 L397.3 1089.5 L396.6 1086.4 L396.1 1083.2 L396.0 1080.0 Z" fill="#fff" stroke="none"/>
<path d="M690.0 1080.0 L689.9 1083.2 L689.4 1086.4 L688.7 1089.5 L687.6 1092.7 L686.3 1095.8 L684.7 1098.9 L682.8 1101.9 L680.6 1104.9 L678.2 1107.9 L675.4 1110.8 L672.4 1113.6 L669.2 1116.4 L665.7 1119.1 L661.9 1121.7 L657.9 1124.3 L653.7 1126.7 L649.3 1129.1 L644.6 1131.3 L639.7 1133.5 L634.7 1135.5 L629.4 1137.4 L624.0 1139.3 L618.4 1140.9 L612.7 1142.5 L606.8 1144.0 L600.8 1145.3 L594.7 1146.5 L588.4 1147.5 L582.1 1148.4 L575.7 1149.2 L569.2 1149.9 L562.7 1150.4 L556.2 1150.7 L549.6 1150.9 L543.0 1151.0 L536.4 1150.9 L529.8 1150.7 L523.3 1150.4 L516.8 1149.9 L510.3 1149.2 L503.9 1148.4 L497.6 1147.5 L491.3 1146.5 L485.2 1145.3 L479.2 1144.0 L473.3 1142.5 L467.6 1140.9 L462.0 1139.3 L456.6 1137.4 L451.3 1135.5 L446.3 1133.5 L441.4 1131.3 L436.7 1129.1 L432.3 1126.7 L428.1 1124.3 L424.1 1121.7 L420.3 1119.1 L416.8 1116.4 L413.6 1113.6 L410.6 1110.8 L407.8 1107.9 L405.4 1104.9 L403.2 1101.9 L401.3 1098.9 L399.7 1095.8 L398.4 1092.7 L397.3 1089.5 L396.6 1086.4 L396.1 1083.2 L396.0 1080.0" stroke="#000" stroke-width="5.12" fill="none"/>
<path d="M395.5 1082 L394.6 1071 L411.5 1061 L401.4 1053 L401.4 1038.5 C405 1030 409 1026 413.8 1022.8 C420 1017 428 1013 437.4 1010.4 L437.4 1001.4 L456.5 994.6 L465.5 999 C490 992.4 520 988.5 560 988.5 C580 989.5 600 993 625.6 1001.6 L635 1002.5 L649 998.3 L666 1004.8 L664 1017.5 C670 1021 674 1024 677.2 1026.9 C681 1031 684 1036 686.6 1041 L690.3 1050.3 L692 1066 L676 1071.5 L688.4 1077.5 L689.4 1084" stroke="#000" stroke-width="5.25" fill="none" stroke-linejoin="round" stroke-linecap="round" />
<path d="M465.5 999 L473.4 1005.9 L472.3 1021.6" stroke="#000" stroke-width="4.51" fill="none" stroke-linejoin="round" stroke-linecap="round" />
<path d="M625.6 1001.6 L623.8 1008 L623.8 1019.4" stroke="#000" stroke-width="4.51" fill="none" stroke-linejoin="round" stroke-linecap="round" />
<path d="M437.4 1010.4 L452 1016 L466 1008 M452 1016 L452 1023" stroke="#777" stroke-width="1.10" fill="none" stroke-linejoin="round" stroke-linecap="round" />
<path d="M635 1002.5 L640 1014 L664 1005 M640 1014 L640 1024" stroke="#777" stroke-width="1.10" fill="none" stroke-linejoin="round" stroke-linecap="round" />
<path d="M401.4 1053 L411 1050 L411.5 1061" stroke="#888" stroke-width="1.00" fill="none" stroke-linejoin="round" stroke-linecap="round" />
<path d="M676 1071.5 L678 1060 L690.3 1055" stroke="#888" stroke-width="1.00" fill="none" stroke-linejoin="round" stroke-linecap="round" />
<path d="M684.8 1077.2 L683.3 1080.4 L681.5 1083.6 L679.4 1086.7 L677.0 1089.8 L674.3 1092.9 L671.4 1095.8 L668.2 1098.7 L664.7 1101.5 L661.0 1104.3 L657.0 1106.9 L652.9 1109.5 L648.4 1112.0 L643.8 1114.3 L638.9 1116.6 L633.9 1118.7 L628.6 1120.8 L623.2 1122.7 L617.6 1124.4 L611.9 1126.1 L606.0 1127.6 L600.0 1129.0 L593.8 1130.2 L587.6 1131.3 L581.3 1132.3 L574.8 1133.1 L568.4 1133.8 L561.8 1134.3 L555.2 1134.7 L548.6 1134.9 L542.0 1135.0 L535.4 1134.9 L528.8 1134.7 L522.2 1134.3 L515.6 1133.8 L509.2 1133.1 L502.7 1132.3 L496.4 1131.3 L490.2 1130.2 L484.0 1129.0 L478.0 1127.6 L472.1 1126.1 L466.4 1124.4 L460.8 1122.7 L455.4 1120.8 L450.1 1118.7 L445.1 1116.6 L440.2 1114.3 L435.6 1112.0 L431.1 1109.5 L427.0 1106.9 L423.0 1104.3 L419.3 1101.5 L415.8 1098.7 L412.6 1095.8 L409.7 1092.9 L407.0 1089.8 L404.6 1086.7 L402.5 1083.6 L400.7 1080.4 L399.2 1077.2" stroke="#777" stroke-width="1.30" fill="none"/>
<ellipse cx="547.0" cy="1066.5" rx="124.0" ry="62.0" stroke="#666" stroke-width="1.30" fill="none" />
<path d="M635.6 1053.6 L636.3 1056.3 L636.5 1058.9 L636.3 1061.5 L635.7 1064.1 L634.6 1066.7 L633.1 1069.3 L631.2 1071.8 L628.8 1074.3 L626.1 1076.6 L623.0 1078.9 L619.5 1081.1 L615.6 1083.2 L611.4 1085.2 L606.9 1087.1 L602.1 1088.8 L597.0 1090.4 L591.7 1091.9 L586.1 1093.2 L580.3 1094.3 L574.4 1095.3 L568.3 1096.1 L562.1 1096.7 L555.8 1097.1 L549.4 1097.4 L543.0 1097.5 L536.6 1097.4 L530.2 1097.1 L523.9 1096.7 L517.7 1096.1 L511.6 1095.3 L505.7 1094.3 L499.9 1093.2 L494.3 1091.9 L489.0 1090.4 L483.9 1088.8 L479.1 1087.1 L474.6 1085.2 L470.4 1083.2 L466.5 1081.1 L463.0 1078.9 L459.9 1076.6 L457.2 1074.3 L454.8 1071.8 L452.9 1069.3 L451.4 1066.7 L450.3 1064.1 L449.7 1061.5 L449.5 1058.9 L449.7 1056.3 L450.4 1053.6" stroke="#000" stroke-width="4.76" fill="none"/>
<path d="M450.4 1053.6 L451.6 1050.9 L453.2 1048.3 L455.3 1045.6 L457.9 1043.1 L460.8 1040.6 L464.2 1038.3 L468.0 1036.0 L472.2 1033.8 L476.8 1031.8 L481.7 1029.9 L486.9 1028.2 L492.4 1026.6 L498.1 1025.2 L504.1 1024.0 L510.3 1022.9 L516.6 1022.1 L523.1 1021.4 L529.7 1020.9 L536.3 1020.6 L543.0 1020.5 L549.7 1020.6 L556.3 1020.9 L562.9 1021.4 L569.4 1022.1 L575.7 1022.9 L581.9 1024.0 L587.9 1025.2 L593.6 1026.6 L599.1 1028.2 L604.3 1029.9 L609.2 1031.8 L613.8 1033.8 L618.0 1036.0 L621.8 1038.3 L625.2 1040.6 L628.1 1043.1 L630.7 1045.6 L632.8 1048.3 L634.4 1050.9 L635.6 1053.6" stroke="#555" stroke-width="1.40" fill="none"/>
<path d="M484.9 1091.0 L486.2 1089.5 L488.0 1088.0 L490.3 1086.5 L493.0 1085.2 L496.3 1083.8 L499.9 1082.6 L504.0 1081.5 L508.4 1080.5 L513.1 1079.6 L518.2 1078.8 L523.4 1078.2 L528.9 1077.7 L534.5 1077.3 L540.2 1077.1 L546.0 1077.0 L551.8 1077.1 L557.5 1077.3 L563.1 1077.7 L568.6 1078.2 L573.8 1078.8 L578.9 1079.6 L583.6 1080.5 L588.0 1081.5 L592.1 1082.6 L595.7 1083.8 L599.0 1085.2 L601.7 1086.5 L604.0 1088.0 L605.8 1089.5 L607.1 1091.0" stroke="#777" stroke-width="1.30" fill="none"/>
<path d="M496.8 1094.9 L497.8 1093.8 L499.2 1092.8 L501.1 1091.7 L503.3 1090.8 L505.9 1089.8 L508.8 1089.0 L512.1 1088.2 L515.7 1087.5 L519.5 1086.8 L523.6 1086.3 L527.8 1085.8 L532.2 1085.5 L536.7 1085.2 L541.4 1085.1 L546.0 1085.0 L550.6 1085.1 L555.3 1085.2 L559.8 1085.5 L564.2 1085.8 L568.4 1086.3 L572.5 1086.8 L576.3 1087.5 L579.9 1088.2 L583.2 1089.0 L586.1 1089.8 L588.7 1090.8 L590.9 1091.7 L592.8 1092.8 L594.2 1093.8 L595.2 1094.9" stroke="#999" stroke-width="1.00" fill="none"/>
<line x1="480.0" y1="1068.0" x2="482.0" y2="1090.0" stroke="#888" stroke-width="1.30" />
<line x1="483.0" y1="1068.0" x2="485.0" y2="1090.0" stroke="#aaa" stroke-width="1.00" />
<line x1="519.0" y1="1050.0" x2="522.0" y2="1078.0" stroke="#888" stroke-width="1.30" />
<line x1="522.0" y1="1050.0" x2="525.0" y2="1078.0" stroke="#aaa" stroke-width="1.00" />
<line x1="568.0" y1="1050.0" x2="569.0" y2="1078.0" stroke="#888" stroke-width="1.30" />
<line x1="571.0" y1="1050.0" x2="572.0" y2="1078.0" stroke="#aaa" stroke-width="1.00" />
<line x1="610.0" y1="1066.0" x2="606.0" y2="1088.0" stroke="#888" stroke-width="1.30" />
<line x1="613.0" y1="1066.0" x2="609.0" y2="1088.0" stroke="#aaa" stroke-width="1.00" />
<path d="M440 1116 L442 1107.5 L465.6 1097 L480.5 1103 L482.6 1116" stroke="#000" stroke-width="4.51" fill="#fff" stroke-linejoin="round" stroke-linecap="round" />
<path d="M442 1107.5 L462 1113 L480.5 1103 M462 1113 L462 1122" stroke="#777" stroke-width="1.10" fill="none" stroke-linejoin="round" stroke-linecap="round" />
<path d="M616.5 1107.5 L620.7 1095.8 L635.6 1090.5 L652.6 1103.2 L653.7 1113.9" stroke="#000" stroke-width="4.51" fill="#fff" stroke-linejoin="round" stroke-linecap="round" />
<path d="M620.7 1095.8 L637 1102 L652.6 1103.2 M637 1102 L637 1110" stroke="#777" stroke-width="1.10" fill="none" stroke-linejoin="round" stroke-linecap="round" />
<path d="M133 1094.5 L205 1120" stroke="#000" stroke-width="3.42" fill="none" stroke-linejoin="round" stroke-linecap="round" />
<path d="M129 1104 L203 1129" stroke="#000" stroke-width="3.42" fill="none" stroke-linejoin="round" stroke-linecap="round" />
<ellipse cx="213.0" cy="1129.0" rx="16.0" ry="22.0" stroke="#000" stroke-width="4.39" fill="#fff" />
<ellipse cx="238.0" cy="1138.5" rx="25.5" ry="30.0" stroke="#000" stroke-width="4.64" fill="#fff" />
<ellipse cx="242.5" cy="1141.5" rx="11.5" ry="15.5" stroke="#888" stroke-width="1.30" fill="none" />
<path d="M226 1120 C222 1130 222 1148 228 1160" stroke="#999" stroke-width="1.00" fill="none" stroke-linejoin="round" stroke-linecap="round" />
<path d="M236 1131 C280 1141 340 1155 400 1165 C430 1170 450 1173 470 1175.6 C500 1178 530 1180 560 1180" stroke="#000" stroke-width="3.17" fill="none" stroke-linejoin="round" stroke-linecap="round" />
<path d="M232 1140 C280 1151 340 1165 380 1173.4 C420 1180 450 1183 470 1184.6 C500 1186.5 530 1187.5 560 1188" stroke="#000" stroke-width="3.17" fill="none" stroke-linejoin="round" stroke-linecap="round" />
<path d="M690 1038 C730 1031 780 1028 884 1048" stroke="#000" stroke-width="3.17" fill="none" stroke-linejoin="round" stroke-linecap="round" />
<path d="M690 1048 C730 1042 780 1040 882 1058.5" stroke="#000" stroke-width="3.17" fill="none" stroke-linejoin="round" stroke-linecap="round" />
<ellipse cx="926.0" cy="1070.0" rx="12.0" ry="23.0" stroke="#000" stroke-width="4.39" fill="#fff" />
<ellipse cx="901.7" cy="1065.2" rx="21.4" ry="30.4" stroke="#000" stroke-width="4.64" fill="#fff" />
<path d="M892 1042 C885 1055 885 1078 893 1090" stroke="#999" stroke-width="1.00" fill="none" stroke-linejoin="round" stroke-linecap="round" />
<path d="M902 1046 C896 1058 896 1075 903 1087" stroke="#999" stroke-width="1.00" fill="none" stroke-linejoin="round" stroke-linecap="round" />
<path d="M919.3 1060.9 L1048.7 1111" stroke="#000" stroke-width="3.17" fill="none" stroke-linejoin="round" stroke-linecap="round" />
<path d="M914.8 1070.3 L1048.7 1122.5" stroke="#000" stroke-width="3.17" fill="none" stroke-linejoin="round" stroke-linecap="round" />
<g transform="rotate(-1.5 550 1382)">
<path d="M746.0 1394.0 L745.8 1398.5 L745.2 1403.0 L744.2 1407.4 L742.9 1411.9 L741.1 1416.3 L738.9 1420.6 L736.4 1424.9 L733.5 1429.1 L730.2 1433.3 L726.6 1437.4 L722.6 1441.4 L718.3 1445.3 L713.6 1449.1 L708.6 1452.8 L703.2 1456.3 L697.6 1459.8 L691.7 1463.1 L685.4 1466.3 L679.0 1469.3 L672.2 1472.2 L665.2 1474.9 L658.0 1477.5 L650.5 1479.8 L642.9 1482.1 L635.0 1484.1 L627.0 1486.0 L618.9 1487.6 L610.6 1489.1 L602.1 1490.4 L593.6 1491.5 L585.0 1492.4 L576.3 1493.1 L567.6 1493.6 L558.8 1493.9 L550.0 1494.0 L541.2 1493.9 L532.4 1493.6 L523.7 1493.1 L515.0 1492.4 L506.4 1491.5 L497.9 1490.4 L489.4 1489.1 L481.1 1487.6 L473.0 1486.0 L465.0 1484.1 L457.1 1482.1 L449.5 1479.8 L442.0 1477.5 L434.8 1474.9 L427.8 1472.2 L421.0 1469.3 L414.6 1466.3 L408.3 1463.1 L402.4 1459.8 L396.8 1456.3 L391.4 1452.8 L386.4 1449.1 L381.7 1445.3 L377.4 1441.4 L373.4 1437.4 L369.8 1433.3 L366.5 1429.1 L363.6 1424.9 L361.1 1420.6 L358.9 1416.3 L357.1 1411.9 L355.8 1407.4 L354.8 1403.0 L354.2 1398.5 L354.0 1394.0" stroke="#000" stroke-width="5.61" fill="none"/>
<path d="M352.0 1378.0 L352.2 1373.3 L352.8 1368.7 L353.8 1364.0 L355.2 1359.4 L357.0 1354.9 L359.1 1350.3 L361.7 1345.9 L364.6 1341.5 L367.9 1337.1 L371.6 1332.9 L375.6 1328.7 L380.0 1324.7 L384.8 1320.7 L389.8 1316.9 L395.2 1313.2 L400.9 1309.6 L406.9 1306.1 L413.2 1302.8 L419.7 1299.7 L426.5 1296.7 L433.6 1293.9 L440.9 1291.2 L448.4 1288.7 L456.2 1286.4 L464.1 1284.3 L472.2 1282.4 L480.4 1280.6 L488.8 1279.1 L497.3 1277.7 L505.9 1276.6 L514.6 1275.7 L523.4 1274.9 L532.3 1274.4 L541.1 1274.1 L550.0 1274.0 L558.9 1274.1 L567.7 1274.4 L576.6 1274.9 L585.4 1275.7 L594.1 1276.6 L602.7 1277.7 L611.2 1279.1 L619.6 1280.6 L627.8 1282.4 L635.9 1284.3 L643.8 1286.4 L651.6 1288.7 L659.1 1291.2 L666.4 1293.9 L673.5 1296.7 L680.3 1299.7 L686.8 1302.8 L693.1 1306.1 L699.1 1309.6 L704.8 1313.2 L710.2 1316.9 L715.2 1320.7 L720.0 1324.7 L724.4 1328.7 L728.4 1332.9 L732.1 1337.1 L735.4 1341.5 L738.3 1345.9 L740.9 1350.3 L743.0 1354.9 L744.8 1359.4 L746.2 1364.0 L747.2 1368.7 L747.8 1373.3 L748.0 1378.0" stroke="#000" stroke-width="5.61" fill="none"/>
<line x1="352.0" y1="1378.0" x2="354.0" y2="1394.0" stroke="#000" stroke-width="5.61" />
<line x1="748.0" y1="1378.0" x2="746.0" y2="1394.0" stroke="#000" stroke-width="5.61" />
<path d="M742.0 1378.0 L741.7 1383.1 L740.9 1388.2 L739.6 1393.3 L737.8 1398.4 L735.5 1403.4 L732.6 1408.3 L729.2 1413.1 L725.4 1417.9 L721.1 1422.5 L716.3 1427.0 L711.0 1431.4 L705.3 1435.6 L699.2 1439.7 L692.7 1443.6 L685.8 1447.3 L678.5 1450.8 L670.8 1454.2 L662.9 1457.3 L654.6 1460.2 L646.0 1462.9 L637.2 1465.3 L628.1 1467.5 L618.8 1469.5 L609.3 1471.2 L599.7 1472.7 L589.9 1473.9 L580.0 1474.8 L570.1 1475.5 L560.0 1475.9 L550.0 1476.0 L540.0 1475.9 L529.9 1475.5 L520.0 1474.8 L510.1 1473.9 L500.3 1472.7 L490.7 1471.2 L481.2 1469.5 L471.9 1467.5 L462.8 1465.3 L454.0 1462.9 L445.4 1460.2 L437.1 1457.3 L429.2 1454.2 L421.5 1450.8 L414.2 1447.3 L407.3 1443.6 L400.8 1439.7 L394.7 1435.6 L389.0 1431.4 L383.7 1427.0 L378.9 1422.5 L374.6 1417.9 L370.8 1413.1 L367.4 1408.3 L364.5 1403.4 L362.2 1398.4 L360.4 1393.3 L359.1 1388.2 L358.3 1383.1 L358.0 1378.0" stroke="#555" stroke-width="1.20" fill="none"/>
<path d="M739.0 1383.0 L738.7 1388.0 L738.0 1392.9 L736.7 1397.9 L734.9 1402.8 L732.6 1407.6 L729.7 1412.4 L726.4 1417.0 L722.7 1421.6 L718.4 1426.1 L713.7 1430.5 L708.5 1434.7 L702.9 1438.8 L696.9 1442.8 L690.5 1446.6 L683.6 1450.2 L676.5 1453.6 L668.9 1456.8 L661.1 1459.9 L652.9 1462.7 L644.5 1465.3 L635.8 1467.6 L626.9 1469.8 L617.7 1471.7 L608.4 1473.4 L598.9 1474.8 L589.3 1475.9 L579.6 1476.8 L569.8 1477.5 L559.9 1477.9 L550.0 1478.0 L540.1 1477.9 L530.2 1477.5 L520.4 1476.8 L510.7 1475.9 L501.1 1474.8 L491.6 1473.4 L482.3 1471.7 L473.1 1469.8 L464.2 1467.6 L455.5 1465.3 L447.1 1462.7 L438.9 1459.9 L431.1 1456.8 L423.5 1453.6 L416.4 1450.2 L409.5 1446.6 L403.1 1442.8 L397.1 1438.8 L391.5 1434.7 L386.3 1430.5 L381.6 1426.1 L377.3 1421.6 L373.6 1417.0 L370.3 1412.4 L367.4 1407.6 L365.1 1402.8 L363.3 1397.9 L362.0 1392.9 L361.3 1388.0 L361.0 1383.0" stroke="#777" stroke-width="1.10" fill="none"/>
<path d="M737.0 1388.0 L736.7 1392.8 L736.0 1397.6 L734.7 1402.4 L732.9 1407.1 L730.6 1411.8 L727.8 1416.4 L724.6 1421.0 L720.8 1425.4 L716.6 1429.8 L711.9 1434.0 L706.8 1438.1 L701.3 1442.1 L695.3 1445.9 L689.0 1449.6 L682.2 1453.1 L675.1 1456.4 L667.7 1459.5 L659.9 1462.4 L651.8 1465.2 L643.5 1467.7 L634.9 1470.0 L626.1 1472.0 L617.0 1473.9 L607.8 1475.5 L598.4 1476.9 L588.9 1478.0 L579.3 1478.9 L569.5 1479.5 L559.8 1479.9 L550.0 1480.0 L540.2 1479.9 L530.5 1479.5 L520.7 1478.9 L511.1 1478.0 L501.6 1476.9 L492.2 1475.5 L483.0 1473.9 L473.9 1472.0 L465.1 1470.0 L456.5 1467.7 L448.2 1465.2 L440.1 1462.4 L432.3 1459.5 L424.9 1456.4 L417.8 1453.1 L411.0 1449.6 L404.7 1445.9 L398.7 1442.1 L393.2 1438.1 L388.1 1434.0 L383.4 1429.8 L379.2 1425.4 L375.4 1421.0 L372.2 1416.4 L369.4 1411.8 L367.1 1407.1 L365.3 1402.4 L364.0 1397.6 L363.3 1392.8 L363.0 1388.0" stroke="#888" stroke-width="1.00" fill="none"/>
<path d="M742.0 1375.0 L741.7 1380.2 L740.9 1385.3 L739.6 1390.5 L737.8 1395.6 L735.5 1400.6 L732.6 1405.6 L729.2 1410.5 L725.4 1415.3 L721.1 1419.9 L716.3 1424.5 L711.0 1428.9 L705.3 1433.2 L699.2 1437.3 L692.7 1441.2 L685.8 1445.0 L678.5 1448.6 L670.8 1451.9 L662.9 1455.1 L654.6 1458.0 L646.0 1460.7 L637.2 1463.2 L628.1 1465.4 L618.8 1467.4 L609.3 1469.2 L599.7 1470.6 L589.9 1471.8 L580.0 1472.8 L570.1 1473.5 L560.0 1473.9 L550.0 1474.0 L540.0 1473.9 L529.9 1473.5 L520.0 1472.8 L510.1 1471.8 L500.3 1470.6 L490.7 1469.2 L481.2 1467.4 L471.9 1465.4 L462.8 1463.2 L454.0 1460.7 L445.4 1458.0 L437.1 1455.1 L429.2 1451.9 L421.5 1448.6 L414.2 1445.0 L407.3 1441.2 L400.8 1437.3 L394.7 1433.2 L389.0 1428.9 L383.7 1424.5 L378.9 1419.9 L374.6 1415.3 L370.8 1410.5 L367.4 1405.6 L364.5 1400.6 L362.2 1395.6 L360.4 1390.5 L359.1 1385.3 L358.3 1380.2 L358.0 1375.0" stroke="#999" stroke-width="1.00" fill="none"/>
<ellipse cx="550.0" cy="1374.0" rx="186.0" ry="93.0" stroke="#666" stroke-width="1.20" fill="none" />
<ellipse cx="550.0" cy="1376.0" rx="181.0" ry="88.0" stroke="#999" stroke-width="1.00" fill="none" />
<path d="M415.5 1329.7 L419.5 1327.9 L423.7 1326.1 L428.1 1324.4 L432.6 1322.8 L437.2 1321.2 L442.0 1319.7 L446.9 1318.2 L451.9 1316.9 L457.1 1315.6 L462.4 1314.4 L467.7 1313.2 L473.2 1312.2 L478.7 1311.2 L484.4 1310.3 L490.1 1309.5 L495.9 1308.7 L501.7 1308.1 L507.6 1307.5 L513.5 1307.1 L519.5 1306.7" stroke="#000" stroke-width="3.42" fill="none" stroke-linecap="round"/>
<path d="M436.0 1334.5 L439.4 1333.1 L443.0 1331.6 L446.7 1330.3 L450.5 1328.9 L454.4 1327.7 L458.4 1326.5 L462.5 1325.3 L466.7 1324.2 L471.0 1323.1 L475.4 1322.1 L479.8 1321.2 L484.4 1320.4 L489.0 1319.6 L493.7 1318.8 L498.4 1318.1 L503.2 1317.5 L508.1 1317.0 L513.0 1316.5 L517.9 1316.1 L522.8 1315.7" stroke="#000" stroke-width="3.17" fill="none" stroke-linecap="round"/>
<path d="M425.8 1332.5 L429.5 1330.8 L433.5 1329.2 L437.5 1327.6 L441.8 1326.1 L446.1 1324.6 L450.6 1323.2 L455.2 1321.9 L459.9 1320.6 L464.7 1319.4 L469.6 1318.3 L474.6 1317.2 L479.7 1316.2 L484.9 1315.3 L490.2 1314.5 L495.5 1313.7 L500.9 1313.0 L506.4 1312.4 L511.9 1311.9 L517.4 1311.5 L523.0 1311.1" stroke="#999" stroke-width="1.00" fill="none"/>
<path d="M537.1 1306.0 L540.8 1306.0 L544.5 1306.0 L548.2 1306.0 L551.8 1306.1 L555.5 1306.2 L559.2 1306.3 L562.9 1306.5 L566.5 1306.7 L570.2 1306.9 L573.8 1307.2 L577.4 1307.4 L581.0 1307.8 L584.6 1308.1 L588.2 1308.5 L591.7 1308.9 L595.2 1309.4 L598.7 1309.9 L602.2 1310.4 L605.6 1310.9 L609.0 1311.5" stroke="#000" stroke-width="3.42" fill="none" stroke-linecap="round"/>
<path d="M543.4 1315.0 L546.4 1315.0 L549.4 1315.0 L552.3 1315.1 L555.3 1315.1 L558.3 1315.2 L561.2 1315.3 L564.2 1315.4 L567.1 1315.6 L570.0 1315.8 L573.0 1316.0 L575.9 1316.2 L578.8 1316.5 L581.7 1316.7 L584.6 1317.0 L587.4 1317.4 L590.3 1317.7 L593.1 1318.1 L595.9 1318.5 L598.7 1318.9 L601.4 1319.3" stroke="#000" stroke-width="3.17" fill="none" stroke-linecap="round"/>
<path d="M539.5 1310.5 L542.9 1310.5 L546.4 1310.5 L549.8 1310.5 L553.3 1310.6 L556.7 1310.7 L560.1 1310.8 L563.6 1310.9 L567.0 1311.1 L570.4 1311.3 L573.8 1311.6 L577.2 1311.8 L580.5 1312.1 L583.9 1312.5 L587.2 1312.8 L590.5 1313.2 L593.8 1313.6 L597.1 1314.1 L600.3 1314.6 L603.5 1315.1 L606.7 1315.6" stroke="#999" stroke-width="1.00" fill="none"/>
<path d="M624.9 1314.7 L628.8 1315.5 L632.6 1316.5 L636.3 1317.5 L639.9 1318.5 L643.5 1319.5 L647.0 1320.6 L650.5 1321.8 L653.9 1322.9 L657.2 1324.1 L660.4 1325.4 L663.5 1326.6 L666.6 1327.9 L669.6 1329.3 L672.5 1330.6 L675.3 1332.0 L678.0 1333.5 L680.6 1334.9 L683.1 1336.4 L685.5 1337.9 L687.9 1339.5" stroke="#000" stroke-width="3.42" fill="none" stroke-linecap="round"/>
<path d="M620.0 1322.9 L623.1 1323.6 L626.2 1324.4 L629.2 1325.2 L632.2 1326.0 L635.1 1326.9 L637.9 1327.8 L640.7 1328.7 L643.5 1329.6 L646.2 1330.6 L648.8 1331.6 L651.4 1332.6 L653.9 1333.6 L656.3 1334.7 L658.7 1335.8 L661.0 1336.9 L663.3 1338.0 L665.4 1339.2 L667.5 1340.3 L669.6 1341.5 L671.5 1342.7" stroke="#000" stroke-width="3.17" fill="none" stroke-linecap="round"/>
<path d="M621.6 1318.5 L625.2 1319.4 L628.7 1320.2 L632.2 1321.1 L635.6 1322.1 L639.0 1323.1 L642.3 1324.1 L645.5 1325.1 L648.7 1326.2 L651.7 1327.3 L654.8 1328.5 L657.7 1329.6 L660.6 1330.9 L663.3 1332.1 L666.0 1333.4 L668.7 1334.7 L671.2 1336.0 L673.6 1337.3 L676.0 1338.7 L678.3 1340.1 L680.4 1341.5" stroke="#999" stroke-width="1.00" fill="none"/>
<path d="M696.2 1345.8 L699.0 1348.5 L701.6 1351.2 L703.9 1353.9 L705.9 1356.7 L707.7 1359.5 L709.1 1362.3 L710.3 1365.2 L711.1 1368.0 L711.7 1370.9 L712.0 1373.8 L711.9 1376.7 L711.6 1379.6 L711.0 1382.5 L710.1 1385.3 L708.9 1388.2 L707.4 1391.0 L705.6 1393.8 L703.5 1396.6 L701.2 1399.3 L698.6 1402.0" stroke="#000" stroke-width="3.42" fill="none" stroke-linecap="round"/>
<path d="M681.2 1350.0 L683.5 1352.2 L685.6 1354.4 L687.5 1356.7 L689.1 1358.9 L690.5 1361.2 L691.7 1363.6 L692.6 1365.9 L693.3 1368.2 L693.8 1370.6 L694.0 1373.0 L694.0 1375.3 L693.7 1377.7 L693.2 1380.1 L692.5 1382.4 L691.5 1384.8 L690.3 1387.1 L688.9 1389.4 L687.2 1391.6 L685.3 1393.9 L683.2 1396.1" stroke="#000" stroke-width="3.17" fill="none" stroke-linecap="round"/>
<path d="M688.2 1347.5 L690.9 1349.9 L693.3 1352.4 L695.4 1354.9 L697.3 1357.5 L699.0 1360.1 L700.3 1362.7 L701.4 1365.4 L702.2 1368.0 L702.7 1370.7 L703.0 1373.4 L703.0 1376.1 L702.7 1378.7 L702.1 1381.4 L701.2 1384.1 L700.1 1386.7 L698.7 1389.3 L697.0 1391.9 L695.1 1394.5 L692.9 1397.0 L690.4 1399.5" stroke="#999" stroke-width="1.00" fill="none"/>
<path d="M690.8 1408.5 L687.3 1410.9 L683.6 1413.3 L679.6 1415.6 L675.4 1417.9 L671.0 1420.0 L666.4 1422.1 L661.6 1424.2 L656.5 1426.1 L651.3 1428.0 L645.9 1429.7 L640.3 1431.4 L634.5 1433.0 L628.6 1434.5 L622.6 1435.9 L616.4 1437.1 L610.1 1438.3 L603.7 1439.4 L597.2 1440.4 L590.6 1441.2 L583.9 1442.0" stroke="#000" stroke-width="3.42" fill="none" stroke-linecap="round"/>
<path d="M674.2 1403.5 L671.2 1405.5 L668.0 1407.4 L664.6 1409.3 L661.0 1411.1 L657.3 1412.9 L653.4 1414.6 L649.3 1416.3 L645.0 1417.8 L640.6 1419.4 L636.1 1420.8 L631.4 1422.2 L626.6 1423.5 L621.7 1424.7 L616.6 1425.9 L611.5 1426.9 L606.2 1427.9 L600.8 1428.8 L595.4 1429.6 L589.9 1430.3 L584.3 1431.0" stroke="#000" stroke-width="3.17" fill="none" stroke-linecap="round"/>
<path d="M683.2 1405.5 L679.9 1407.8 L676.4 1410.0 L672.7 1412.2 L668.8 1414.3 L664.7 1416.3 L660.4 1418.2 L655.8 1420.1 L651.1 1421.9 L646.2 1423.6 L641.2 1425.3 L636.0 1426.8 L630.6 1428.3 L625.1 1429.7 L619.4 1431.0 L613.6 1432.1 L607.7 1433.2 L601.8 1434.2 L595.7 1435.1 L589.5 1435.9 L583.2 1436.6" stroke="#999" stroke-width="1.00" fill="none"/>
<path d="M566.5 1443.3 L561.3 1443.6 L556.0 1443.8 L550.7 1443.9 L545.4 1444.0 L540.1 1444.0 L534.7 1443.9 L529.4 1443.8 L524.2 1443.6 L518.9 1443.3 L513.7 1443.0 L508.4 1442.5 L503.3 1442.1 L498.1 1441.5 L493.0 1440.9 L488.0 1440.2 L483.0 1439.5 L478.1 1438.7 L473.2 1437.8 L468.4 1436.9 L463.7 1435.9" stroke="#000" stroke-width="3.42" fill="none" stroke-linecap="round"/>
<path d="M564.0 1432.6 L559.7 1432.7 L555.3 1432.9 L550.9 1433.0 L546.5 1433.0 L542.1 1433.0 L537.7 1432.9 L533.4 1432.8 L529.0 1432.6 L524.6 1432.4 L520.3 1432.1 L516.0 1431.8 L511.7 1431.4 L507.4 1431.0 L503.2 1430.5 L499.0 1430.0 L494.9 1429.4 L490.8 1428.7 L486.7 1428.1 L482.8 1427.3 L478.8 1426.6" stroke="#000" stroke-width="3.17" fill="none" stroke-linecap="round"/>
<path d="M567.0 1437.9 L562.1 1438.1 L557.1 1438.3 L552.2 1438.4 L547.2 1438.5 L542.2 1438.5 L537.3 1438.4 L532.3 1438.3 L527.4 1438.1 L522.5 1437.8 L517.6 1437.5 L512.7 1437.1 L507.8 1436.7 L503.0 1436.2 L498.3 1435.6 L493.6 1435.0 L488.9 1434.3 L484.3 1433.6 L479.7 1432.8 L475.2 1431.9 L470.8 1431.0" stroke="#999" stroke-width="1.00" fill="none"/>
<path d="M448.5 1432.2 L443.8 1430.9 L439.2 1429.4 L434.7 1428.0 L430.4 1426.4 L426.1 1424.8 L422.0 1423.2 L418.1 1421.5 L414.3 1419.7 L410.6 1417.9 L407.1 1416.0 L403.8 1414.1 L400.6 1412.2 L397.6 1410.2 L394.8 1408.1 L392.1 1406.1 L389.6 1403.9 L387.3 1401.8 L385.1 1399.6 L383.2 1397.4 L381.4 1395.2" stroke="#000" stroke-width="3.42" fill="none" stroke-linecap="round"/>
<path d="M461.1 1422.3 L457.2 1421.2 L453.5 1420.0 L449.8 1418.8 L446.2 1417.6 L442.7 1416.3 L439.4 1414.9 L436.1 1413.5 L433.0 1412.1 L429.9 1410.6 L427.0 1409.1 L424.2 1407.5 L421.6 1406.0 L419.1 1404.3 L416.7 1402.7 L414.4 1401.0 L412.3 1399.3 L410.3 1397.6 L408.5 1395.8 L406.8 1394.0 L405.2 1392.2" stroke="#000" stroke-width="3.17" fill="none" stroke-linecap="round"/>
<path d="M456.6 1427.6 L452.2 1426.3 L447.9 1425.0 L443.8 1423.6 L439.7 1422.2 L435.7 1420.7 L431.9 1419.2 L428.2 1417.6 L424.7 1416.0 L421.3 1414.3 L418.0 1412.6 L414.9 1410.8 L411.9 1409.0 L409.1 1407.1 L406.4 1405.2 L403.9 1403.3 L401.6 1401.3 L399.4 1399.4 L397.4 1397.3 L395.6 1395.3 L393.9 1393.2" stroke="#999" stroke-width="1.00" fill="none"/>
<path d="M377.1 1388.2 L375.9 1385.4 L375.1 1382.7 L374.4 1379.9 L374.1 1377.2 L374.0 1374.4 L374.2 1371.6 L374.7 1368.9 L375.4 1366.1 L376.4 1363.4 L377.7 1360.7 L379.2 1358.0 L381.0 1355.3 L383.1 1352.6 L385.4 1350.0 L388.0 1347.5 L390.8 1345.0 L393.9 1342.5 L397.2 1340.1 L400.8 1337.7 L404.6 1335.4" stroke="#000" stroke-width="3.42" fill="none" stroke-linecap="round"/>
<path d="M400.2 1384.2 L399.4 1382.0 L398.7 1379.8 L398.3 1377.5 L398.0 1375.2 L398.0 1373.0 L398.2 1370.7 L398.7 1368.4 L399.3 1366.2 L400.2 1364.0 L401.2 1361.7 L402.5 1359.5 L404.0 1357.3 L405.7 1355.2 L407.6 1353.0 L409.8 1350.9 L412.1 1348.9 L414.6 1346.8 L417.3 1344.9 L420.2 1342.9 L423.3 1341.0" stroke="#000" stroke-width="3.17" fill="none" stroke-linecap="round"/>
<path d="M389.9 1386.7 L388.8 1384.2 L388.0 1381.6 L387.4 1379.1 L387.1 1376.5 L387.0 1373.9 L387.2 1371.4 L387.6 1368.8 L388.3 1366.3 L389.3 1363.7 L390.5 1361.2 L391.9 1358.7 L393.6 1356.2 L395.5 1353.8 L397.7 1351.4 L400.1 1349.0 L402.7 1346.6 L405.6 1344.4 L408.7 1342.1 L412.0 1339.9 L415.6 1337.8" stroke="#999" stroke-width="1.00" fill="none"/>
<ellipse cx="543.0" cy="1373.0" rx="160.0" ry="62.0" stroke="none" stroke-width="0.00" fill="none" />
<ellipse cx="554.5" cy="1371.0" rx="113.5" ry="47.0" stroke="#111" stroke-width="3.66" fill="none" />
<ellipse cx="554.5" cy="1373.0" rx="104.0" ry="40.0" stroke="#777" stroke-width="1.10" fill="none" />
<ellipse cx="554.0" cy="1382.0" rx="98.4" ry="30.0" stroke="#000" stroke-width="5.37" fill="none" />
<line x1="456.6" y1="1341.8" x2="402.7" y2="1328.2" stroke="#111" stroke-width="2.69" />
<line x1="408.0" y1="1340.2" x2="425.8" y2="1331.0" stroke="#222" stroke-width="2.46" />
<line x1="537.9" y1="1323.2" x2="527.5" y2="1299.3" stroke="#111" stroke-width="2.69" />
<line x1="519.1" y1="1311.6" x2="539.0" y2="1310.9" stroke="#222" stroke-width="2.46" />
<line x1="598.9" y1="1328.0" x2="621.0" y2="1306.7" stroke="#111" stroke-width="2.69" />
<line x1="603.3" y1="1315.6" x2="623.0" y2="1319.4" stroke="#222" stroke-width="2.46" />
<line x1="650.4" y1="1349.0" x2="700.2" y2="1339.3" stroke="#111" stroke-width="2.69" />
<line x1="676.3" y1="1338.9" x2="692.3" y2="1351.0" stroke="#222" stroke-width="2.46" />
<line x1="652.3" y1="1393.5" x2="703.0" y2="1408.3" stroke="#111" stroke-width="2.69" />
<line x1="694.5" y1="1396.7" x2="679.1" y2="1409.4" stroke="#222" stroke-width="2.46" />
<line x1="570.1" y1="1420.1" x2="577.0" y2="1449.6" stroke="#111" stroke-width="2.69" />
<line x1="583.5" y1="1437.0" x2="563.6" y2="1438.6" stroke="#222" stroke-width="2.46" />
<line x1="488.3" y1="1414.0" x2="451.3" y2="1440.1" stroke="#111" stroke-width="2.69" />
<line x1="470.3" y1="1432.2" x2="450.9" y2="1427.5" stroke="#222" stroke-width="2.46" />
<line x1="435.4" y1="1383.9" x2="370.3" y2="1393.4" stroke="#111" stroke-width="2.69" />
<line x1="393.0" y1="1399.0" x2="382.5" y2="1382.0" stroke="#222" stroke-width="2.46" />
</g>
<circle cx="1309.0" cy="1318.5" r="208.3" stroke="#111" stroke-width="2.6" fill="none" />
<circle cx="1309.0" cy="1318.5" r="200.0" stroke="#333" stroke-width="1.2" fill="none" />
<circle cx="1309.0" cy="1318.5" r="194.0" stroke="#333" stroke-width="1.2" fill="none" />
<circle cx="1309.0" cy="1318.5" r="189.5" stroke="#666" stroke-width="1.0" fill="none" />
<circle cx="1309.0" cy="1318.5" r="169.5" stroke="#333" stroke-width="1.2" fill="none" />
<circle cx="1309.0" cy="1318.5" r="164.0" stroke="#222" stroke-width="1.4" fill="none" />
<circle cx="1309.0" cy="1318.5" r="117.0" stroke="#222" stroke-width="1.3" fill="none" />
<circle cx="1309.0" cy="1318.5" r="111.5" stroke="#333" stroke-width="1.2" fill="none" />
<circle cx="1309.0" cy="1318.5" r="105.0" stroke="#222" stroke-width="1.3" fill="none" />
<circle cx="1309.0" cy="1318.5" r="102.0" stroke="#555" stroke-width="1.0" fill="none" />
<path d="M1376.4 1143.0 L1368.3 1140.1 L1360.0 1137.6 L1351.7 1135.4 L1343.3 1133.6 L1334.8 1132.3 L1326.2 1131.3 L1317.6 1130.7 L1309.0 1130.5 L1300.4 1130.7 L1291.8 1131.3 L1283.2 1132.3 L1274.7 1133.6 L1266.3 1135.4 L1258.0 1137.6 L1249.7 1140.1 L1241.6 1143.0 L1247.7 1158.9 L1255.1 1156.2 L1262.6 1153.9 L1270.2 1152.0 L1277.8 1150.4 L1285.6 1149.1 L1293.4 1148.2 L1301.2 1147.7 L1309.0 1147.5 L1316.8 1147.7 L1324.6 1148.2 L1332.4 1149.1 L1340.2 1150.4 L1347.8 1152.0 L1355.4 1153.9 L1362.9 1156.2 L1370.3 1158.9 Z" stroke="#333" stroke-width="1.2" fill="#fff" stroke-linejoin="round"/>
<path d="M1241.6 1494.0 L1249.7 1496.9 L1258.0 1499.4 L1266.3 1501.6 L1274.7 1503.4 L1283.2 1504.7 L1291.8 1505.7 L1300.4 1506.3 L1309.0 1506.5 L1317.6 1506.3 L1326.2 1505.7 L1334.8 1504.7 L1343.3 1503.4 L1351.7 1501.6 L1360.0 1499.4 L1368.3 1496.9 L1376.4 1494.0 L1370.3 1478.1 L1362.9 1480.8 L1355.4 1483.1 L1347.8 1485.0 L1340.2 1486.6 L1332.4 1487.9 L1324.6 1488.8 L1316.8 1489.3 L1309.0 1489.5 L1301.2 1489.3 L1293.4 1488.8 L1285.6 1487.9 L1277.8 1486.6 L1270.2 1485.0 L1262.6 1483.1 L1255.1 1480.8 L1247.7 1478.1 Z" stroke="#333" stroke-width="1.2" fill="#fff" stroke-linejoin="round"/>
<path d="M1492.2 1276.2 L1491.3 1272.6 L1490.4 1269.1 L1489.4 1265.5 L1488.3 1262.0 L1487.2 1258.5 L1485.9 1255.0 L1484.7 1251.5 L1483.3 1248.1 L1481.9 1244.7 L1480.4 1241.3 L1478.9 1237.9 L1477.2 1234.6 L1475.6 1231.3 L1473.8 1228.1 L1472.0 1224.9 L1470.1 1221.7 L1455.6 1230.4 L1457.3 1233.3 L1458.9 1236.3 L1460.5 1239.2 L1462.0 1242.2 L1463.5 1245.2 L1464.9 1248.3 L1466.3 1251.3 L1467.5 1254.4 L1468.8 1257.6 L1469.9 1260.7 L1471.0 1263.9 L1472.1 1267.1 L1473.1 1270.3 L1474.0 1273.5 L1474.8 1276.8 L1475.6 1280.0 Z" stroke="#333" stroke-width="1.2" fill="#fff" stroke-linejoin="round"/>
<path d="M1405.8 1157.4 L1402.6 1155.5 L1399.4 1153.7 L1396.2 1151.9 L1392.9 1150.3 L1389.6 1148.6 L1386.2 1147.1 L1382.8 1145.6 L1379.4 1144.2 L1376.0 1142.8 L1372.5 1141.6 L1369.0 1140.3 L1365.5 1139.2 L1362.0 1138.1 L1358.4 1137.1 L1354.9 1136.2 L1351.3 1135.3 L1347.5 1151.9 L1350.7 1152.7 L1354.0 1153.5 L1357.2 1154.4 L1360.4 1155.4 L1363.6 1156.5 L1366.8 1157.6 L1369.9 1158.7 L1373.1 1160.0 L1376.2 1161.2 L1379.2 1162.6 L1382.3 1164.0 L1385.3 1165.5 L1388.3 1167.0 L1391.2 1168.6 L1394.2 1170.2 L1397.1 1171.9 Z" stroke="#333" stroke-width="1.2" fill="#fff" stroke-linejoin="round"/>
<path d="M1266.7 1135.3 L1263.1 1136.2 L1259.6 1137.1 L1256.0 1138.1 L1252.5 1139.2 L1249.0 1140.3 L1245.5 1141.6 L1242.0 1142.8 L1238.6 1144.2 L1235.2 1145.6 L1231.8 1147.1 L1228.4 1148.6 L1225.1 1150.3 L1221.8 1151.9 L1218.6 1153.7 L1215.4 1155.5 L1212.2 1157.4 L1220.9 1171.9 L1223.8 1170.2 L1226.8 1168.6 L1229.7 1167.0 L1232.7 1165.5 L1235.7 1164.0 L1238.8 1162.6 L1241.8 1161.2 L1244.9 1160.0 L1248.1 1158.7 L1251.2 1157.6 L1254.4 1156.5 L1257.6 1155.4 L1260.8 1154.4 L1264.0 1153.5 L1267.3 1152.7 L1270.5 1151.9 Z" stroke="#333" stroke-width="1.2" fill="#fff" stroke-linejoin="round"/>
<path d="M1147.9 1221.7 L1146.0 1224.9 L1144.2 1228.1 L1142.4 1231.3 L1140.8 1234.6 L1139.1 1237.9 L1137.6 1241.3 L1136.1 1244.7 L1134.7 1248.1 L1133.3 1251.5 L1132.1 1255.0 L1130.8 1258.5 L1129.7 1262.0 L1128.6 1265.5 L1127.6 1269.1 L1126.7 1272.6 L1125.8 1276.2 L1142.4 1280.0 L1143.2 1276.8 L1144.0 1273.5 L1144.9 1270.3 L1145.9 1267.1 L1147.0 1263.9 L1148.1 1260.7 L1149.2 1257.6 L1150.5 1254.4 L1151.7 1251.3 L1153.1 1248.3 L1154.5 1245.2 L1156.0 1242.2 L1157.5 1239.2 L1159.1 1236.3 L1160.7 1233.3 L1162.4 1230.4 Z" stroke="#333" stroke-width="1.2" fill="#fff" stroke-linejoin="round"/>
<path d="M1125.8 1360.8 L1126.7 1364.4 L1127.6 1367.9 L1128.6 1371.5 L1129.7 1375.0 L1130.8 1378.5 L1132.1 1382.0 L1133.3 1385.5 L1134.7 1388.9 L1136.1 1392.3 L1137.6 1395.7 L1139.1 1399.1 L1140.8 1402.4 L1142.4 1405.7 L1144.2 1408.9 L1146.0 1412.1 L1147.9 1415.3 L1162.4 1406.6 L1160.7 1403.7 L1159.1 1400.7 L1157.5 1397.8 L1156.0 1394.8 L1154.5 1391.8 L1153.1 1388.7 L1151.7 1385.7 L1150.5 1382.6 L1149.2 1379.4 L1148.1 1376.3 L1147.0 1373.1 L1145.9 1369.9 L1144.9 1366.7 L1144.0 1363.5 L1143.2 1360.2 L1142.4 1357.0 Z" stroke="#333" stroke-width="1.2" fill="#fff" stroke-linejoin="round"/>
<path d="M1212.2 1479.6 L1215.4 1481.5 L1218.6 1483.3 L1221.8 1485.1 L1225.1 1486.7 L1228.4 1488.4 L1231.8 1489.9 L1235.2 1491.4 L1238.6 1492.8 L1242.0 1494.2 L1245.5 1495.4 L1249.0 1496.7 L1252.5 1497.8 L1256.0 1498.9 L1259.6 1499.9 L1263.1 1500.8 L1266.7 1501.7 L1270.5 1485.1 L1267.3 1484.3 L1264.0 1483.5 L1260.8 1482.6 L1257.6 1481.6 L1254.4 1480.5 L1251.2 1479.4 L1248.1 1478.3 L1244.9 1477.0 L1241.8 1475.8 L1238.8 1474.4 L1235.7 1473.0 L1232.7 1471.5 L1229.7 1470.0 L1226.8 1468.4 L1223.8 1466.8 L1220.9 1465.1 Z" stroke="#333" stroke-width="1.2" fill="#fff" stroke-linejoin="round"/>
<path d="M1351.3 1501.7 L1354.9 1500.8 L1358.4 1499.9 L1362.0 1498.9 L1365.5 1497.8 L1369.0 1496.7 L1372.5 1495.4 L1376.0 1494.2 L1379.4 1492.8 L1382.8 1491.4 L1386.2 1489.9 L1389.6 1488.4 L1392.9 1486.7 L1396.2 1485.1 L1399.4 1483.3 L1402.6 1481.5 L1405.8 1479.6 L1397.1 1465.1 L1394.2 1466.8 L1391.2 1468.4 L1388.3 1470.0 L1385.3 1471.5 L1382.3 1473.0 L1379.2 1474.4 L1376.2 1475.8 L1373.1 1477.0 L1369.9 1478.3 L1366.8 1479.4 L1363.6 1480.5 L1360.4 1481.6 L1357.2 1482.6 L1354.0 1483.5 L1350.7 1484.3 L1347.5 1485.1 Z" stroke="#333" stroke-width="1.2" fill="#fff" stroke-linejoin="round"/>
<path d="M1470.1 1415.3 L1472.0 1412.1 L1473.8 1408.9 L1475.6 1405.7 L1477.2 1402.4 L1478.9 1399.1 L1480.4 1395.7 L1481.9 1392.3 L1483.3 1388.9 L1484.7 1385.5 L1485.9 1382.0 L1487.2 1378.5 L1488.3 1375.0 L1489.4 1371.5 L1490.4 1367.9 L1491.3 1364.4 L1492.2 1360.8 L1475.6 1357.0 L1474.8 1360.2 L1474.0 1363.5 L1473.1 1366.7 L1472.1 1369.9 L1471.0 1373.1 L1469.9 1376.3 L1468.8 1379.4 L1467.5 1382.6 L1466.3 1385.7 L1464.9 1388.7 L1463.5 1391.8 L1462.0 1394.8 L1460.5 1397.8 L1458.9 1400.7 L1457.3 1403.7 L1455.6 1406.6 Z" stroke="#333" stroke-width="1.2" fill="#fff" stroke-linejoin="round"/>
<path d="M1494.3 1382.3 L1496.8 1374.6 L1499.0 1366.7 L1500.8 1358.8 L1502.3 1350.8 L1503.5 1342.8 L1504.3 1334.7 L1504.8 1326.6 L1505.0 1318.5 L1504.8 1310.4 L1504.3 1302.3 L1503.5 1294.2 L1502.3 1286.2 L1500.8 1278.2 L1499.0 1270.3 L1496.8 1262.4 L1494.3 1254.7 L1483.9 1258.3 L1486.3 1265.6 L1488.3 1273.0 L1490.0 1280.4 L1491.5 1288.0 L1492.6 1295.6 L1493.4 1303.2 L1493.8 1310.8 L1494.0 1318.5 L1493.8 1326.2 L1493.4 1333.8 L1492.6 1341.4 L1491.5 1349.0 L1490.0 1356.6 L1488.3 1364.0 L1486.3 1371.4 L1483.9 1378.7 Z" stroke="#000" stroke-width="2.6" fill="#fff" stroke-linejoin="round"/>
<path d="M1123.7 1254.7 L1121.2 1262.4 L1119.0 1270.3 L1117.2 1278.2 L1115.7 1286.2 L1114.5 1294.2 L1113.7 1302.3 L1113.2 1310.4 L1113.0 1318.5 L1113.2 1326.6 L1113.7 1334.7 L1114.5 1342.8 L1115.7 1350.8 L1117.2 1358.8 L1119.0 1366.7 L1121.2 1374.6 L1123.7 1382.3 L1134.1 1378.7 L1131.7 1371.4 L1129.7 1364.0 L1128.0 1356.6 L1126.5 1349.0 L1125.4 1341.4 L1124.6 1333.8 L1124.2 1326.2 L1124.0 1318.5 L1124.2 1310.8 L1124.6 1303.2 L1125.4 1295.6 L1126.5 1288.0 L1128.0 1280.4 L1129.7 1273.0 L1131.7 1265.6 L1134.1 1258.3 Z" stroke="#000" stroke-width="2.6" fill="#fff" stroke-linejoin="round"/>
<path d="M1451.5 1208.5 L1419.0 1176.0 L1412.6 1182.4 L1445.1 1214.9 Z" stroke="#000" stroke-width="2.8" fill="none" stroke-linejoin="round"/>
<path d="M1199.0 1176.0 L1166.5 1208.5 L1172.9 1214.9 L1205.4 1182.4 Z" stroke="#000" stroke-width="2.8" fill="none" stroke-linejoin="round"/>
<path d="M1166.5 1428.5 L1199.0 1461.0 L1205.4 1454.6 L1172.9 1422.1 Z" stroke="#000" stroke-width="2.8" fill="none" stroke-linejoin="round"/>
<path d="M1419.0 1461.0 L1451.5 1428.5 L1445.1 1422.1 L1412.6 1454.6 Z" stroke="#000" stroke-width="2.8" fill="none" stroke-linejoin="round"/>
<path d="M1445.9 1266.9 L1436.4 1230.1 L1445.3 1227.8 L1454.8 1264.6 Z" stroke="#000" stroke-width="1.9" fill="none" stroke-linejoin="round"/>
<path d="M1430.7 1274.3 L1421.4 1238.5 L1430.3 1236.2 L1439.6 1272.0 Z" stroke="#000" stroke-width="1.9" fill="none" stroke-linejoin="round"/>
<path d="M1415.4 1277.3 L1408.4 1250.2 L1417.3 1247.9 L1424.3 1275.0 Z" stroke="#000" stroke-width="1.9" fill="none" stroke-linejoin="round"/>
<path d="M1369.3 1185.2 L1336.6 1165.9 L1341.3 1158.0 L1374.0 1177.3 Z" stroke="#000" stroke-width="1.9" fill="none" stroke-linejoin="round"/>
<path d="M1363.8 1201.2 L1331.9 1182.4 L1336.6 1174.5 L1368.5 1193.3 Z" stroke="#000" stroke-width="1.9" fill="none" stroke-linejoin="round"/>
<path d="M1355.1 1214.2 L1331.0 1200.0 L1335.7 1192.0 L1359.8 1206.2 Z" stroke="#000" stroke-width="1.9" fill="none" stroke-linejoin="round"/>
<path d="M1257.4 1181.6 L1220.6 1191.1 L1218.3 1182.2 L1255.1 1172.7 Z" stroke="#000" stroke-width="1.9" fill="none" stroke-linejoin="round"/>
<path d="M1264.8 1196.8 L1229.0 1206.1 L1226.7 1197.2 L1262.5 1187.9 Z" stroke="#000" stroke-width="1.9" fill="none" stroke-linejoin="round"/>
<path d="M1267.8 1212.1 L1240.7 1219.1 L1238.4 1210.2 L1265.5 1203.2 Z" stroke="#000" stroke-width="1.9" fill="none" stroke-linejoin="round"/>
<path d="M1175.7 1258.2 L1156.4 1290.9 L1148.5 1286.2 L1167.8 1253.5 Z" stroke="#000" stroke-width="1.9" fill="none" stroke-linejoin="round"/>
<path d="M1191.7 1263.7 L1172.9 1295.6 L1165.0 1290.9 L1183.8 1259.0 Z" stroke="#000" stroke-width="1.9" fill="none" stroke-linejoin="round"/>
<path d="M1204.7 1272.4 L1190.5 1296.5 L1182.5 1291.8 L1196.7 1267.7 Z" stroke="#000" stroke-width="1.9" fill="none" stroke-linejoin="round"/>
<path d="M1172.1 1370.1 L1181.6 1406.9 L1172.7 1409.2 L1163.2 1372.4 Z" stroke="#000" stroke-width="1.9" fill="none" stroke-linejoin="round"/>
<path d="M1187.3 1362.7 L1196.6 1398.5 L1187.7 1400.8 L1178.4 1365.0 Z" stroke="#000" stroke-width="1.9" fill="none" stroke-linejoin="round"/>
<path d="M1202.6 1359.7 L1209.6 1386.8 L1200.7 1389.1 L1193.7 1362.0 Z" stroke="#000" stroke-width="1.9" fill="none" stroke-linejoin="round"/>
<path d="M1248.7 1451.8 L1281.4 1471.1 L1276.7 1479.0 L1244.0 1459.7 Z" stroke="#000" stroke-width="1.9" fill="none" stroke-linejoin="round"/>
<path d="M1254.2 1435.8 L1286.1 1454.6 L1281.4 1462.5 L1249.5 1443.7 Z" stroke="#000" stroke-width="1.9" fill="none" stroke-linejoin="round"/>
<path d="M1262.9 1422.8 L1287.0 1437.0 L1282.3 1445.0 L1258.2 1430.8 Z" stroke="#000" stroke-width="1.9" fill="none" stroke-linejoin="round"/>
<path d="M1360.6 1455.4 L1397.4 1445.9 L1399.7 1454.8 L1362.9 1464.3 Z" stroke="#000" stroke-width="1.9" fill="none" stroke-linejoin="round"/>
<path d="M1353.2 1440.2 L1389.0 1430.9 L1391.3 1439.8 L1355.5 1449.1 Z" stroke="#000" stroke-width="1.9" fill="none" stroke-linejoin="round"/>
<path d="M1350.2 1424.9 L1377.3 1417.9 L1379.6 1426.8 L1352.5 1433.8 Z" stroke="#000" stroke-width="1.9" fill="none" stroke-linejoin="round"/>
<path d="M1442.3 1378.8 L1461.6 1346.1 L1469.5 1350.8 L1450.2 1383.5 Z" stroke="#000" stroke-width="1.9" fill="none" stroke-linejoin="round"/>
<path d="M1426.3 1373.3 L1445.1 1341.4 L1453.0 1346.1 L1434.2 1378.0 Z" stroke="#000" stroke-width="1.9" fill="none" stroke-linejoin="round"/>
<path d="M1413.3 1364.6 L1427.5 1340.5 L1435.5 1345.2 L1421.3 1369.3 Z" stroke="#000" stroke-width="1.9" fill="none" stroke-linejoin="round"/>
<line x1="1423.7" y1="1291.0" x2="1464.9" y2="1270.8" stroke="#222" stroke-width="1.4" />
<line x1="1397.4" y1="1240.3" x2="1437.4" y2="1218.1" stroke="#222" stroke-width="1.4" />
<line x1="1370.7" y1="1217.9" x2="1385.5" y2="1174.6" stroke="#222" stroke-width="1.4" />
<line x1="1316.2" y1="1200.7" x2="1328.9" y2="1156.7" stroke="#222" stroke-width="1.4" />
<line x1="1281.5" y1="1203.8" x2="1261.3" y2="1162.6" stroke="#222" stroke-width="1.4" />
<line x1="1230.8" y1="1230.1" x2="1208.6" y2="1190.1" stroke="#222" stroke-width="1.4" />
<line x1="1208.4" y1="1256.8" x2="1165.1" y2="1242.0" stroke="#222" stroke-width="1.4" />
<line x1="1191.2" y1="1311.3" x2="1147.2" y2="1298.6" stroke="#222" stroke-width="1.4" />
<line x1="1194.3" y1="1346.0" x2="1153.1" y2="1366.2" stroke="#222" stroke-width="1.4" />
<line x1="1220.6" y1="1396.7" x2="1180.6" y2="1418.9" stroke="#222" stroke-width="1.4" />
<line x1="1247.3" y1="1419.1" x2="1232.5" y2="1462.4" stroke="#222" stroke-width="1.4" />
<line x1="1301.8" y1="1436.3" x2="1289.1" y2="1480.3" stroke="#222" stroke-width="1.4" />
<line x1="1336.5" y1="1433.2" x2="1356.7" y2="1474.4" stroke="#222" stroke-width="1.4" />
<line x1="1387.2" y1="1406.9" x2="1409.4" y2="1446.9" stroke="#222" stroke-width="1.4" />
<line x1="1409.6" y1="1380.2" x2="1452.9" y2="1395.0" stroke="#222" stroke-width="1.4" />
<line x1="1426.8" y1="1325.7" x2="1470.8" y2="1338.4" stroke="#222" stroke-width="1.4" />
<line x1="1309" y1="1094" x2="1309" y2="1542" stroke="#222" stroke-width="1.5" stroke-dasharray="30 5 3 5"/>
<line x1="1027" y1="1318.5" x2="1536" y2="1318.5" stroke="#333" stroke-width="1.2" stroke-dasharray="60 5 3 5"/>
<line x1="1032.5" y1="1265.6" x2="1180.0" y2="1297.0" stroke="#333" stroke-width="1.1" />
<path d="M1057.8 1219.5 L1056.4 1223.1 L1055.1 1226.6 L1053.9 1230.2 L1052.7 1233.7 L1051.5 1237.3 L1050.4 1240.9 L1049.3 1244.5 L1048.3 1248.2 L1047.4 1251.8 L1046.5 1255.5 L1045.6 1259.1 L1044.8 1262.8 L1044.1 1266.5 L1043.4 1270.2 L1042.7 1273.9 L1042.1 1277.7 L1041.6 1281.4 L1041.1 1285.1 L1040.6 1288.9 L1040.2 1292.6 L1039.9 1296.4 L1039.6 1300.1 L1039.4 1303.9 L1039.2 1307.7 L1039.1 1311.4 L1039.0 1315.2 L1039.0 1319.0 L1039.0 1322.7 L1039.1 1326.5 L1039.3 1330.3 L1039.4 1334.0 L1039.7 1337.8 L1040.0 1341.6 L1040.3 1345.3 L1040.7 1349.1 L1041.2 1352.8 L1041.7 1356.5 L1042.3 1360.3 L1042.9 1364.0 L1043.5 1367.7" stroke="#333" stroke-width="1.1" fill="none"/>
<path d="M1046.5 1266 L1046 1244 L1055.5 1246 Z" fill="#000"/>
<path d="M1040.5 1319 L1036.5 1345 L1046.5 1344 Z" fill="#000"/>
<text font-size="35" fill="#222" transform="translate(1029 1316) rotate(-90)">12°</text>
<defs><filter id="sh" x="-10%" y="-30%" width="130%" height="170%"><feGaussianBlur in="SourceAlpha" stdDeviation="3"/><feOffset dx="4" dy="4"/><feComponentTransfer><feFuncA type="linear" slope="0.75"/></feComponentTransfer><feMerge><feMergeNode/><feMergeNode in="SourceGraphic"/></feMerge></filter></defs>
<path d="M1042.5 788.5 H1555.5 Q1560.5 788.5 1560.5 793.5 V884.5 Q1560.5 889.5 1555.5 889.5 H1042.5 Z" fill="#fffecb" stroke="#a9a68c" stroke-width="1.5" filter="url(#sh)"/>
<rect x="1043.3" y="789.3" width="110" height="99.4" fill="#fff"/>
<line x1="1153.7" y1="789.0" x2="1153.7" y2="889.0" stroke="#aba88a" stroke-width="1.6" />
<circle cx="1094.4" cy="839.7" r="24.3" stroke="#777" stroke-width="2.7" fill="none" />
<circle cx="1094.4" cy="830.3" r="1.9" stroke="none" stroke-width="0" fill="#777" />
<rect x="1092.7" y="835.5" width="3.5" height="16.5" fill="#777"/>
<text x="1179.4" y="857.3" font-size="29" letter-spacing="0.72" fill="#66634b">61110076 | Insert (female)</text>
</svg>
</body></html>
